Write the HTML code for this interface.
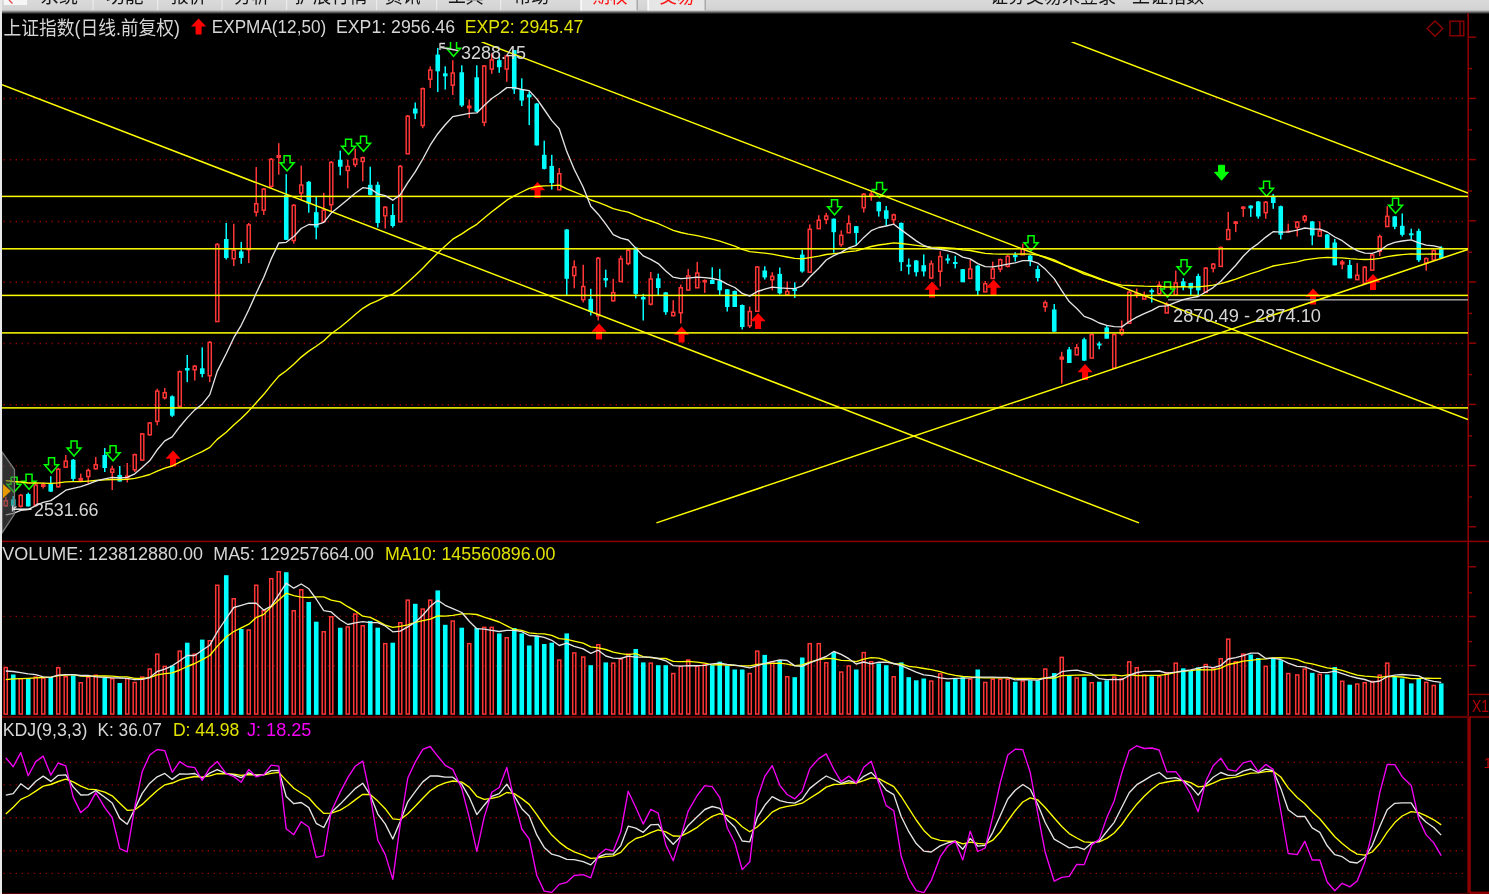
<!DOCTYPE html>
<html><head><meta charset="utf-8"><title>上证指数</title>
<style>html,body{margin:0;padding:0;background:#000;}body{width:1489px;height:894px;overflow:hidden;}svg{display:block}</style>
</head><body><svg width="1489" height="894" viewBox="0 0 1489 894">
<rect x="0" y="0" width="1489" height="894" fill="#000"/>
<defs><linearGradient id="tb" x1="0" y1="0" x2="0" y2="1"><stop offset="0" stop-color="#dadada"/><stop offset="0.68" stop-color="#d3d3d3"/><stop offset="0.76" stop-color="#b8b8b8"/><stop offset="0.84" stop-color="#808080"/><stop offset="0.92" stop-color="#404040"/><stop offset="1" stop-color="#0a0a0a"/></linearGradient></defs>
<rect x="0" y="0" width="1489" height="14" fill="url(#tb)"/>
<rect x="4" y="0" width="23" height="5" fill="#f6f6f6"/>
<path d="M9 0 L12.5 3.5" stroke="#e04040" stroke-width="1.2"/>
<rect x="92.5" y="0" width="1.2" height="10" fill="#ececec"/>
<rect x="157" y="0" width="1.2" height="10" fill="#ececec"/>
<rect x="221.5" y="0" width="1.2" height="10" fill="#ececec"/>
<rect x="286" y="0" width="1.2" height="10" fill="#ececec"/>
<rect x="376" y="0" width="1.2" height="10" fill="#ececec"/>
<rect x="436" y="0" width="1.2" height="10" fill="#ececec"/>
<rect x="500" y="0" width="1.2" height="10" fill="#ececec"/>
<text x="40" y="3.2" fill="#151515" font-size="19" font-family='"Liberation Sans", "Noto Sans CJK SC", "WenQuanYi Zen Hei", sans-serif' textLength="38" lengthAdjust="spacingAndGlyphs">系统</text>
<text x="106" y="3.2" fill="#151515" font-size="19" font-family='"Liberation Sans", "Noto Sans CJK SC", "WenQuanYi Zen Hei", sans-serif' textLength="37.6" lengthAdjust="spacingAndGlyphs">功能</text>
<text x="171" y="3.2" fill="#151515" font-size="19" font-family='"Liberation Sans", "Noto Sans CJK SC", "WenQuanYi Zen Hei", sans-serif' textLength="35.5" lengthAdjust="spacingAndGlyphs">报价</text>
<text x="234" y="3.2" fill="#151515" font-size="19" font-family='"Liberation Sans", "Noto Sans CJK SC", "WenQuanYi Zen Hei", sans-serif' textLength="35.5" lengthAdjust="spacingAndGlyphs">分析</text>
<text x="294.7" y="3.2" fill="#151515" font-size="19" font-family='"Liberation Sans", "Noto Sans CJK SC", "WenQuanYi Zen Hei", sans-serif' textLength="73.1" lengthAdjust="spacingAndGlyphs">扩展行情</text>
<text x="385" y="3.2" fill="#151515" font-size="19" font-family='"Liberation Sans", "Noto Sans CJK SC", "WenQuanYi Zen Hei", sans-serif' textLength="35.6" lengthAdjust="spacingAndGlyphs">资讯</text>
<text x="448" y="3.2" fill="#151515" font-size="19" font-family='"Liberation Sans", "Noto Sans CJK SC", "WenQuanYi Zen Hei", sans-serif' textLength="35.6" lengthAdjust="spacingAndGlyphs">工具</text>
<text x="513.8" y="3.2" fill="#151515" font-size="19" font-family='"Liberation Sans", "Noto Sans CJK SC", "WenQuanYi Zen Hei", sans-serif' textLength="35.2" lengthAdjust="spacingAndGlyphs">帮助</text>
<rect x="580.5" y="0" width="57.5" height="10.5" fill="#e6e6e6"/>
<rect x="580.5" y="0" width="1.3" height="10.5" fill="#ffffff"/>
<rect x="636.5" y="0" width="1.5" height="10.5" fill="#a8a8a8"/>
<text x="592.5" y="3.2" fill="#ff1010" font-size="19" font-family='"Liberation Sans", "Noto Sans CJK SC", "WenQuanYi Zen Hei", sans-serif' textLength="35" lengthAdjust="spacingAndGlyphs">期权</text>
<rect x="647.5" y="0" width="58.5" height="10.5" fill="#e6e6e6"/>
<rect x="647.5" y="0" width="1.3" height="10.5" fill="#ffffff"/>
<rect x="704.5" y="0" width="1.5" height="10.5" fill="#a8a8a8"/>
<text x="659.5" y="3.2" fill="#ff1010" font-size="19" font-family='"Liberation Sans", "Noto Sans CJK SC", "WenQuanYi Zen Hei", sans-serif' textLength="35" lengthAdjust="spacingAndGlyphs">交易</text>
<text x="990" y="3.2" fill="#151515" font-size="19" font-family='"Liberation Sans", "Noto Sans CJK SC", "WenQuanYi Zen Hei", sans-serif' textLength="214" lengthAdjust="spacingAndGlyphs">证券交易未登录 - 上证指数</text>
<line x1="3.6" y1="98.5" x2="1467" y2="98.5" stroke="#8c0000" stroke-width="1.4" stroke-dasharray="1.4 4.6"/>
<line x1="3.6" y1="159.7" x2="1467" y2="159.7" stroke="#8c0000" stroke-width="1.4" stroke-dasharray="1.4 4.6"/>
<line x1="3.6" y1="221.5" x2="1467" y2="221.5" stroke="#8c0000" stroke-width="1.4" stroke-dasharray="1.4 4.6"/>
<line x1="3.6" y1="282.3" x2="1467" y2="282.3" stroke="#8c0000" stroke-width="1.4" stroke-dasharray="1.4 4.6"/>
<line x1="3.6" y1="343.5" x2="1467" y2="343.5" stroke="#8c0000" stroke-width="1.4" stroke-dasharray="1.4 4.6"/>
<line x1="3.6" y1="404.7" x2="1467" y2="404.7" stroke="#8c0000" stroke-width="1.4" stroke-dasharray="1.4 4.6"/>
<line x1="3.6" y1="465.9" x2="1467" y2="465.9" stroke="#8c0000" stroke-width="1.4" stroke-dasharray="1.4 4.6"/>
<line x1="3.6" y1="616.4" x2="1467" y2="616.4" stroke="#8c0000" stroke-width="1.4" stroke-dasharray="1.4 4.6"/>
<line x1="3.6" y1="665.9" x2="1467" y2="665.9" stroke="#8c0000" stroke-width="1.4" stroke-dasharray="1.4 4.6"/>
<line x1="3.6" y1="762.4" x2="1467" y2="762.4" stroke="#8c0000" stroke-width="1.4" stroke-dasharray="1.4 4.6"/>
<line x1="3.6" y1="784.9" x2="1467" y2="784.9" stroke="#8c0000" stroke-width="1.4" stroke-dasharray="1.4 4.6"/>
<line x1="3.6" y1="817.8" x2="1467" y2="817.8" stroke="#8c0000" stroke-width="1.4" stroke-dasharray="1.4 4.6"/>
<line x1="3.6" y1="850.8" x2="1467" y2="850.8" stroke="#8c0000" stroke-width="1.4" stroke-dasharray="1.4 4.6"/>
<line x1="3.6" y1="873.4" x2="1467" y2="873.4" stroke="#8c0000" stroke-width="1.4" stroke-dasharray="1.4 4.6"/>
<rect x="1467.4" y="13" width="1.6" height="881" fill="#8c0000"/>
<rect x="2" y="540.65" width="1487" height="1.5" fill="#8c0000"/>
<rect x="2" y="715.9" width="1487" height="2.2" fill="#680000"/>
<rect x="1468.2" y="717" width="2.6" height="177" fill="#8c0000"/>
<rect x="1470" y="891.6" width="19" height="2.4" fill="#8c0000"/>
<rect x="2" y="892.9" width="1468" height="1.1" fill="#500000"/>
<rect x="1468" y="36.45" width="8.2" height="1.5" fill="#8c0000"/>
<rect x="1468" y="67.85" width="4" height="1.5" fill="#8c0000"/>
<rect x="1468" y="97.65" width="8.2" height="1.5" fill="#8c0000"/>
<rect x="1468" y="129.05" width="4" height="1.5" fill="#8c0000"/>
<rect x="1468" y="158.85" width="8.2" height="1.5" fill="#8c0000"/>
<rect x="1468" y="190.25" width="4" height="1.5" fill="#8c0000"/>
<rect x="1468" y="220.05" width="8.2" height="1.5" fill="#8c0000"/>
<rect x="1468" y="251.45" width="4" height="1.5" fill="#8c0000"/>
<rect x="1468" y="281.25" width="8.2" height="1.5" fill="#8c0000"/>
<rect x="1468" y="312.65" width="4" height="1.5" fill="#8c0000"/>
<rect x="1468" y="342.45" width="8.2" height="1.5" fill="#8c0000"/>
<rect x="1468" y="373.85" width="4" height="1.5" fill="#8c0000"/>
<rect x="1468" y="403.65" width="8.2" height="1.5" fill="#8c0000"/>
<rect x="1468" y="435.05" width="4" height="1.5" fill="#8c0000"/>
<rect x="1468" y="464.85" width="8.2" height="1.5" fill="#8c0000"/>
<rect x="1468" y="496.25" width="4" height="1.5" fill="#8c0000"/>
<rect x="1468" y="526.05" width="8.2" height="1.5" fill="#8c0000"/>
<rect x="1468" y="566.05" width="8.2" height="1.5" fill="#8c0000"/>
<rect x="1468" y="615.75" width="8.2" height="1.5" fill="#8c0000"/>
<rect x="1468" y="664.85" width="8.2" height="1.5" fill="#8c0000"/>
<rect x="1468" y="591.95" width="4" height="1.5" fill="#8c0000"/>
<rect x="1468" y="640.85" width="4" height="1.5" fill="#8c0000"/>
<rect x="1468" y="693.65" width="21" height="1.5" fill="#8c0000"/>
<text x="1472" y="711.5" fill="#b40000" font-size="17" font-family='"Liberation Sans", Arial, sans-serif' textLength="17" lengthAdjust="spacingAndGlyphs">X1</text>
<text x="1483.5" y="768" fill="#b40000" font-size="15.5" font-family='"Liberation Sans", Arial, sans-serif'>1</text>
<path d="M1435 21 L1442.8 28.6 L1435 36.2 L1427.2 28.6 Z" fill="none" stroke="#8c0000" stroke-width="1.4"/>
<rect x="1450" y="21.2" width="13.8" height="14.6" fill="none" stroke="#8c0000" stroke-width="1.4"/>
<line x1="1460" y1="21.2" x2="1460" y2="35.8" stroke="#8c0000" stroke-width="1.4"/>
<defs><clipPath id="pp"><rect x="2" y="42" width="1466" height="499"/></clipPath><clipPath id="vp"><rect x="2" y="542" width="1466" height="174"/></clipPath><clipPath id="kp"><rect x="2" y="718" width="1466" height="175"/></clipPath></defs>
<g clip-path="url(#pp)">
<rect x="5" y="497" width="1.5" height="9.5" fill="#ff3636"/><rect x="4.2" y="500.75" width="3.1" height="5" fill="#000" stroke="#ff3636" stroke-width="1.5"/><rect x="12.5" y="496" width="1.5" height="10.5" fill="#00ffff"/><rect x="10.95" y="499.3" width="4.6" height="6.4" fill="#00ffff"/><rect x="20" y="494" width="1.5" height="13.5" fill="#ff3636"/><rect x="19.2" y="495.35" width="3.1" height="10.8" fill="#000" stroke="#ff3636" stroke-width="1.5"/><rect x="27.5" y="492.6" width="1.5" height="13.9" fill="#00ffff"/><rect x="25.95" y="494" width="4.6" height="12.4" fill="#00ffff"/><rect x="35" y="483" width="1.5" height="22.5" fill="#ff3636"/><rect x="34.2" y="485.05" width="3.1" height="20.1" fill="#000" stroke="#ff3636" stroke-width="1.5"/><rect x="42.5" y="482.5" width="1.5" height="6" fill="#ff3636"/><rect x="40.95" y="484" width="4.6" height="3" fill="#ff3636"/><rect x="50" y="476.2" width="1.5" height="15.8" fill="#00ffff"/><rect x="48.45" y="483.2" width="4.6" height="8.4" fill="#00ffff"/><rect x="57.5" y="468" width="1.5" height="19.5" fill="#ff3636"/><rect x="56.7" y="469.25" width="3.1" height="17.5" fill="#000" stroke="#ff3636" stroke-width="1.5"/><rect x="65" y="455" width="1.5" height="12.5" fill="#ff3636"/><rect x="64.2" y="461.15" width="3.1" height="6" fill="#000" stroke="#ff3636" stroke-width="1.5"/><rect x="72.5" y="459" width="1.5" height="22" fill="#00ffff"/><rect x="70.95" y="459.7" width="4.6" height="19.2" fill="#00ffff"/><rect x="80" y="473.6" width="1.5" height="7.9" fill="#ff3636"/><rect x="78.45" y="477.9" width="4.6" height="3.6" fill="#ff3636"/><rect x="87.5" y="468.5" width="1.5" height="15" fill="#ff3636"/><rect x="86.7" y="470.55" width="3.1" height="6" fill="#000" stroke="#ff3636" stroke-width="1.5"/><rect x="95" y="457" width="1.5" height="12.5" fill="#ff3636"/><rect x="94.2" y="464.75" width="3.1" height="4" fill="#000" stroke="#ff3636" stroke-width="1.5"/><rect x="104" y="448" width="1.5" height="24" fill="#00ffff"/><rect x="102.45" y="455" width="4.6" height="13" fill="#00ffff"/><rect x="111.5" y="466" width="1.5" height="24" fill="#ff3636"/><rect x="110.7" y="469.15" width="3.1" height="3.1" fill="#000" stroke="#ff3636" stroke-width="1.5"/><rect x="119" y="466" width="1.5" height="15.5" fill="#00ffff"/><rect x="117.45" y="475" width="4.6" height="6.5" fill="#00ffff"/><rect x="126.5" y="463" width="1.5" height="19.5" fill="#ff3636"/><rect x="124.95" y="475.4" width="4.6" height="3.4" fill="#ff3636"/><rect x="134" y="453.5" width="1.5" height="18.5" fill="#ff3636"/><rect x="133.2" y="454.75" width="3.1" height="15" fill="#000" stroke="#ff3636" stroke-width="1.5"/><rect x="141.5" y="433" width="1.5" height="27.5" fill="#ff3636"/><rect x="140.7" y="433.95" width="3.1" height="26.1" fill="#000" stroke="#ff3636" stroke-width="1.5"/><rect x="149" y="422" width="1.5" height="13.5" fill="#ff3636"/><rect x="148.2" y="423.05" width="3.1" height="11.7" fill="#000" stroke="#ff3636" stroke-width="1.5"/><rect x="156.5" y="388.7" width="1.5" height="36.6" fill="#ff3636"/><rect x="155.7" y="391.15" width="3.1" height="30.2" fill="#000" stroke="#ff3636" stroke-width="1.5"/><rect x="164" y="388" width="1.5" height="11.5" fill="#ff3636"/><rect x="163.2" y="392.75" width="3.1" height="5" fill="#000" stroke="#ff3636" stroke-width="1.5"/><rect x="171.5" y="395.4" width="1.5" height="21.5" fill="#00ffff"/><rect x="169.95" y="396.3" width="4.6" height="19.4" fill="#00ffff"/><rect x="179" y="370.5" width="1.5" height="36" fill="#ff3636"/><rect x="178.2" y="371.75" width="3.1" height="34.5" fill="#000" stroke="#ff3636" stroke-width="1.5"/><rect x="186.5" y="355" width="1.5" height="27.1" fill="#00ffff"/><rect x="184.95" y="368" width="4.6" height="2.5" fill="#00ffff"/><rect x="194" y="365" width="1.5" height="15.5" fill="#ff3636"/><rect x="193.2" y="366.25" width="3.1" height="3.5" fill="#000" stroke="#ff3636" stroke-width="1.5"/><rect x="201.5" y="347.4" width="1.5" height="29.9" fill="#00ffff"/><rect x="199.95" y="368.3" width="4.6" height="5.7" fill="#00ffff"/><rect x="209" y="341" width="1.5" height="41.1" fill="#ff3636"/><rect x="208.2" y="342.45" width="3.1" height="33.3" fill="#000" stroke="#ff3636" stroke-width="1.5"/><rect x="216.5" y="243" width="1.5" height="79" fill="#ff3636"/><rect x="215.7" y="244.55" width="3.1" height="77" fill="#000" stroke="#ff3636" stroke-width="1.5"/><rect x="225.5" y="222.9" width="1.5" height="36.6" fill="#00ffff"/><rect x="223.95" y="239" width="4.6" height="19" fill="#00ffff"/><rect x="233" y="223.8" width="1.5" height="42.3" fill="#ff3636"/><rect x="232.2" y="250.25" width="3.1" height="8.5" fill="#000" stroke="#ff3636" stroke-width="1.5"/><rect x="240.5" y="241.9" width="1.5" height="21.9" fill="#00ffff"/><rect x="238.95" y="251.4" width="4.6" height="6.6" fill="#00ffff"/><rect x="248" y="223" width="1.5" height="40.1" fill="#ff3636"/><rect x="247.2" y="224.95" width="3.1" height="24.8" fill="#000" stroke="#ff3636" stroke-width="1.5"/><rect x="255.5" y="167" width="1.5" height="49.5" fill="#ff3636"/><rect x="254.7" y="203.75" width="3.1" height="8.3" fill="#000" stroke="#ff3636" stroke-width="1.5"/><rect x="263" y="188" width="1.5" height="27" fill="#ff3636"/><rect x="262.2" y="189.15" width="3.1" height="21" fill="#000" stroke="#ff3636" stroke-width="1.5"/><rect x="270.5" y="158" width="1.5" height="30" fill="#ff3636"/><rect x="269.7" y="159.35" width="3.1" height="27" fill="#000" stroke="#ff3636" stroke-width="1.5"/><rect x="278" y="143.2" width="1.5" height="31.5" fill="#ff3636"/><rect x="276.45" y="155" width="4.6" height="3" fill="#ff3636"/><rect x="285.5" y="174.2" width="1.5" height="65.8" fill="#00ffff"/><rect x="283.95" y="195" width="4.6" height="44.8" fill="#00ffff"/><rect x="293" y="204" width="1.5" height="39.7" fill="#ff3636"/><rect x="292.2" y="205.35" width="3.1" height="35.2" fill="#000" stroke="#ff3636" stroke-width="1.5"/><rect x="300.5" y="165.6" width="1.5" height="33.9" fill="#ff3636"/><rect x="299.7" y="185.05" width="3.1" height="7.9" fill="#000" stroke="#ff3636" stroke-width="1.5"/><rect x="308" y="181" width="1.5" height="31.7" fill="#00ffff"/><rect x="306.45" y="181.8" width="4.6" height="21.9" fill="#00ffff"/><rect x="315.5" y="197" width="1.5" height="42.3" fill="#00ffff"/><rect x="313.95" y="212.2" width="4.6" height="15.3" fill="#00ffff"/><rect x="323" y="192.8" width="1.5" height="29.2" fill="#ff3636"/><rect x="322.2" y="210.15" width="3.1" height="11.4" fill="#000" stroke="#ff3636" stroke-width="1.5"/><rect x="330.5" y="161" width="1.5" height="50.5" fill="#ff3636"/><rect x="329.7" y="162.45" width="3.1" height="42.3" fill="#000" stroke="#ff3636" stroke-width="1.5"/><rect x="339.5" y="150.6" width="1.5" height="24.7" fill="#00ffff"/><rect x="337.95" y="159.7" width="4.6" height="7" fill="#00ffff"/><rect x="347" y="159.7" width="1.5" height="28.6" fill="#ff3636"/><rect x="346.2" y="166.45" width="3.1" height="4" fill="#000" stroke="#ff3636" stroke-width="1.5"/><rect x="354.5" y="148.6" width="1.5" height="18.6" fill="#ff3636"/><rect x="353.7" y="158.95" width="3.1" height="5.5" fill="#000" stroke="#ff3636" stroke-width="1.5"/><rect x="362" y="156.5" width="1.5" height="24.8" fill="#ff3636"/><rect x="361.2" y="157.75" width="3.1" height="3.7" fill="#000" stroke="#ff3636" stroke-width="1.5"/><rect x="369.5" y="166.7" width="1.5" height="28.8" fill="#00ffff"/><rect x="367.95" y="184.8" width="4.6" height="10.1" fill="#00ffff"/><rect x="377" y="181.8" width="1.5" height="45.7" fill="#00ffff"/><rect x="375.45" y="184.8" width="4.6" height="38.2" fill="#00ffff"/><rect x="384.5" y="206" width="1.5" height="22.5" fill="#ff3636"/><rect x="383.7" y="207.35" width="3.1" height="8.4" fill="#000" stroke="#ff3636" stroke-width="1.5"/><rect x="392" y="204" width="1.5" height="23.5" fill="#00ffff"/><rect x="390.45" y="215" width="4.6" height="11" fill="#00ffff"/><rect x="399.5" y="165" width="1.5" height="57" fill="#ff3636"/><rect x="398.7" y="166.45" width="3.1" height="55.3" fill="#000" stroke="#ff3636" stroke-width="1.5"/><rect x="407" y="115" width="1.5" height="39" fill="#ff3636"/><rect x="406.2" y="116.25" width="3.1" height="37.5" fill="#000" stroke="#ff3636" stroke-width="1.5"/><rect x="414.5" y="102.5" width="1.5" height="16.6" fill="#00ffff"/><rect x="412.95" y="108.5" width="4.6" height="5.1" fill="#00ffff"/><rect x="422" y="87.5" width="1.5" height="40.7" fill="#ff3636"/><rect x="421.2" y="88.75" width="3.1" height="36.7" fill="#000" stroke="#ff3636" stroke-width="1.5"/><rect x="429.5" y="66.3" width="1.5" height="21.6" fill="#ff3636"/><rect x="428.7" y="70.05" width="3.1" height="9.1" fill="#000" stroke="#ff3636" stroke-width="1.5"/><rect x="437" y="47.9" width="1.5" height="44" fill="#00ffff"/><rect x="435.45" y="54.6" width="4.6" height="16.7" fill="#00ffff"/><rect x="444.5" y="66.3" width="1.5" height="23.2" fill="#00ffff"/><rect x="442.95" y="73.3" width="4.6" height="3" fill="#00ffff"/><rect x="452" y="60.2" width="1.5" height="34.8" fill="#ff3636"/><rect x="451.2" y="73.05" width="3.1" height="12.1" fill="#000" stroke="#ff3636" stroke-width="1.5"/><rect x="461" y="65.3" width="1.5" height="41.7" fill="#00ffff"/><rect x="459.45" y="72.3" width="4.6" height="33.2" fill="#00ffff"/><rect x="468.5" y="99.5" width="1.5" height="18.6" fill="#ff3636"/><rect x="466.95" y="105.5" width="4.6" height="3" fill="#ff3636"/><rect x="476" y="65.3" width="1.5" height="46.8" fill="#00ffff"/><rect x="474.45" y="77.3" width="4.6" height="34.3" fill="#00ffff"/><rect x="483.5" y="65" width="1.5" height="61.2" fill="#ff3636"/><rect x="482.7" y="66.05" width="3.1" height="56.3" fill="#000" stroke="#ff3636" stroke-width="1.5"/><rect x="491" y="53.2" width="1.5" height="20.6" fill="#ff3636"/><rect x="490.2" y="59.95" width="3.1" height="9.1" fill="#000" stroke="#ff3636" stroke-width="1.5"/><rect x="498.5" y="57.2" width="1.5" height="15.6" fill="#00ffff"/><rect x="496.95" y="60.2" width="4.6" height="7" fill="#00ffff"/><rect x="506" y="54.5" width="1.5" height="27.3" fill="#ff3636"/><rect x="505.2" y="55.95" width="3.1" height="13.1" fill="#000" stroke="#ff3636" stroke-width="1.5"/><rect x="513.5" y="50" width="1.5" height="43.9" fill="#00ffff"/><rect x="511.95" y="50.1" width="4.6" height="39.3" fill="#00ffff"/><rect x="521" y="78.3" width="1.5" height="27.7" fill="#00ffff"/><rect x="519.45" y="89.4" width="4.6" height="11.1" fill="#00ffff"/><rect x="528.5" y="91.4" width="1.5" height="33.7" fill="#00ffff"/><rect x="526.95" y="94.4" width="4.6" height="3" fill="#00ffff"/><rect x="536" y="103" width="1.5" height="42.5" fill="#00ffff"/><rect x="534.45" y="103.5" width="4.6" height="41.9" fill="#00ffff"/><rect x="543.5" y="140.7" width="1.5" height="28.8" fill="#00ffff"/><rect x="541.95" y="154.8" width="4.6" height="14.1" fill="#00ffff"/><rect x="551" y="154.8" width="1.5" height="34.7" fill="#00ffff"/><rect x="549.45" y="165.9" width="4.6" height="17.1" fill="#00ffff"/><rect x="558.5" y="168" width="1.5" height="22" fill="#ff3636"/><rect x="557.7" y="173.75" width="3.1" height="16" fill="#000" stroke="#ff3636" stroke-width="1.5"/><rect x="566" y="229" width="1.5" height="66.4" fill="#00ffff"/><rect x="564.45" y="229.5" width="4.6" height="49.3" fill="#00ffff"/><rect x="573.5" y="260.3" width="1.5" height="28" fill="#ff3636"/><rect x="572.7" y="267.05" width="3.1" height="8.5" fill="#000" stroke="#ff3636" stroke-width="1.5"/><rect x="582.5" y="264.7" width="1.5" height="37.8" fill="#ff3636"/><rect x="581.7" y="286.55" width="3.1" height="13.1" fill="#000" stroke="#ff3636" stroke-width="1.5"/><rect x="590" y="288.8" width="1.5" height="26.7" fill="#00ffff"/><rect x="588.45" y="298.9" width="4.6" height="13.1" fill="#00ffff"/><rect x="597.5" y="257" width="1.5" height="63.5" fill="#ff3636"/><rect x="596.7" y="258.35" width="3.1" height="57.4" fill="#000" stroke="#ff3636" stroke-width="1.5"/><rect x="605" y="269.7" width="1.5" height="17.6" fill="#00ffff"/><rect x="603.45" y="278" width="4.6" height="2.5" fill="#00ffff"/><rect x="612.5" y="278.8" width="1.5" height="22.7" fill="#ff3636"/><rect x="611.7" y="292.65" width="3.1" height="8.1" fill="#000" stroke="#ff3636" stroke-width="1.5"/><rect x="620" y="255.6" width="1.5" height="26.4" fill="#ff3636"/><rect x="619.2" y="258.95" width="3.1" height="22.6" fill="#000" stroke="#ff3636" stroke-width="1.5"/><rect x="627.5" y="249" width="1.5" height="16.2" fill="#ff3636"/><rect x="626.7" y="250.35" width="3.1" height="13.1" fill="#000" stroke="#ff3636" stroke-width="1.5"/><rect x="635" y="247" width="1.5" height="51.4" fill="#00ffff"/><rect x="633.45" y="247.6" width="4.6" height="46.3" fill="#00ffff"/><rect x="642.5" y="293.9" width="1.5" height="26.6" fill="#00ffff"/><rect x="640.95" y="297" width="4.6" height="2.5" fill="#00ffff"/><rect x="650" y="272" width="1.5" height="33.5" fill="#ff3636"/><rect x="649.2" y="279.05" width="3.1" height="25.1" fill="#000" stroke="#ff3636" stroke-width="1.5"/><rect x="657.5" y="273.6" width="1.5" height="21.6" fill="#00ffff"/><rect x="655.95" y="278.3" width="4.6" height="9.7" fill="#00ffff"/><rect x="665" y="292" width="1.5" height="22.8" fill="#00ffff"/><rect x="663.45" y="292.4" width="4.6" height="19.8" fill="#00ffff"/><rect x="672.5" y="300.2" width="1.5" height="15.8" fill="#ff3636"/><rect x="671.7" y="312.25" width="3.1" height="3.5" fill="#000" stroke="#ff3636" stroke-width="1.5"/><rect x="680" y="284.6" width="1.5" height="38.9" fill="#ff3636"/><rect x="679.2" y="287.75" width="3.1" height="25" fill="#000" stroke="#ff3636" stroke-width="1.5"/><rect x="687.5" y="269" width="1.5" height="21.5" fill="#ff3636"/><rect x="686.7" y="275.95" width="3.1" height="14.1" fill="#000" stroke="#ff3636" stroke-width="1.5"/><rect x="696.5" y="261.9" width="1.5" height="26.1" fill="#ff3636"/><rect x="695.7" y="273.05" width="3.1" height="14.7" fill="#000" stroke="#ff3636" stroke-width="1.5"/><rect x="704" y="279.5" width="1.5" height="13.4" fill="#ff3636"/><rect x="702.45" y="279.9" width="4.6" height="2.6" fill="#ff3636"/><rect x="711.5" y="267.3" width="1.5" height="16.7" fill="#00ffff"/><rect x="709.95" y="280" width="4.6" height="4" fill="#00ffff"/><rect x="719" y="268.9" width="1.5" height="26.3" fill="#00ffff"/><rect x="717.45" y="280.6" width="4.6" height="9.7" fill="#00ffff"/><rect x="726.5" y="289" width="1.5" height="22.5" fill="#00ffff"/><rect x="724.95" y="289.3" width="4.6" height="17.7" fill="#00ffff"/><rect x="734" y="290.5" width="1.5" height="16.5" fill="#00ffff"/><rect x="732.45" y="291" width="4.6" height="16" fill="#00ffff"/><rect x="741.5" y="304.5" width="1.5" height="25" fill="#00ffff"/><rect x="739.95" y="305" width="4.6" height="22" fill="#00ffff"/><rect x="749" y="306.6" width="1.5" height="21.5" fill="#ff3636"/><rect x="748.2" y="311.55" width="3.1" height="14.2" fill="#000" stroke="#ff3636" stroke-width="1.5"/><rect x="756.5" y="266" width="1.5" height="45.5" fill="#ff3636"/><rect x="755.7" y="267.05" width="3.1" height="44.2" fill="#000" stroke="#ff3636" stroke-width="1.5"/><rect x="764" y="266.3" width="1.5" height="13.2" fill="#00ffff"/><rect x="762.45" y="270.5" width="4.6" height="6.9" fill="#00ffff"/><rect x="771.5" y="272.2" width="1.5" height="18.1" fill="#ff3636"/><rect x="770.7" y="276.35" width="3.1" height="3.4" fill="#000" stroke="#ff3636" stroke-width="1.5"/><rect x="779" y="267.5" width="1.5" height="27" fill="#00ffff"/><rect x="777.45" y="273.9" width="4.6" height="19.4" fill="#00ffff"/><rect x="786.5" y="281.4" width="1.5" height="14" fill="#ff3636"/><rect x="785.7" y="291.45" width="3.1" height="3.3" fill="#000" stroke="#ff3636" stroke-width="1.5"/><rect x="794" y="282.3" width="1.5" height="15.6" fill="#00ffff"/><rect x="792.45" y="288.5" width="4.6" height="2.5" fill="#00ffff"/><rect x="801.5" y="249.6" width="1.5" height="23.1" fill="#00ffff"/><rect x="799.95" y="254.6" width="4.6" height="16.9" fill="#00ffff"/><rect x="809" y="224.4" width="1.5" height="48.1" fill="#ff3636"/><rect x="808.2" y="229.35" width="3.1" height="42.8" fill="#000" stroke="#ff3636" stroke-width="1.5"/><rect x="818" y="215.3" width="1.5" height="13.7" fill="#ff3636"/><rect x="817.2" y="220.25" width="3.1" height="8.4" fill="#000" stroke="#ff3636" stroke-width="1.5"/><rect x="825.5" y="212.8" width="1.5" height="11.4" fill="#ff3636"/><rect x="824.7" y="216.05" width="3.1" height="3.4" fill="#000" stroke="#ff3636" stroke-width="1.5"/><rect x="833" y="218.5" width="1.5" height="34.2" fill="#00ffff"/><rect x="831.45" y="218.7" width="4.6" height="13.5" fill="#00ffff"/><rect x="840.5" y="230.4" width="1.5" height="16.4" fill="#ff3636"/><rect x="839.7" y="235.35" width="3.1" height="9.2" fill="#000" stroke="#ff3636" stroke-width="1.5"/><rect x="848" y="215.3" width="1.5" height="17.7" fill="#ff3636"/><rect x="847.2" y="223.65" width="3.1" height="9.1" fill="#000" stroke="#ff3636" stroke-width="1.5"/><rect x="855.5" y="226" width="1.5" height="19.2" fill="#00ffff"/><rect x="853.95" y="226.2" width="4.6" height="6.8" fill="#00ffff"/><rect x="863" y="193" width="1.5" height="19.5" fill="#ff3636"/><rect x="862.2" y="194.25" width="3.1" height="13.5" fill="#000" stroke="#ff3636" stroke-width="1.5"/><rect x="870.5" y="191.8" width="1.5" height="8.9" fill="#ff3636"/><rect x="868.95" y="193.5" width="4.6" height="2.7" fill="#ff3636"/><rect x="878" y="201.5" width="1.5" height="15.1" fill="#00ffff"/><rect x="876.45" y="201.9" width="4.6" height="9.4" fill="#00ffff"/><rect x="885.5" y="206" width="1.5" height="19.9" fill="#00ffff"/><rect x="883.95" y="210.3" width="4.6" height="8.5" fill="#00ffff"/><rect x="893" y="213.6" width="1.5" height="10.5" fill="#ff3636"/><rect x="892.2" y="214.95" width="3.1" height="4.7" fill="#000" stroke="#ff3636" stroke-width="1.5"/><rect x="900.5" y="222.5" width="1.5" height="48.5" fill="#00ffff"/><rect x="898.95" y="222.9" width="4.6" height="39.2" fill="#00ffff"/><rect x="908" y="258.5" width="1.5" height="15.9" fill="#00ffff"/><rect x="906.45" y="264.7" width="4.6" height="2" fill="#00ffff"/><rect x="915.5" y="260" width="1.5" height="16.4" fill="#00ffff"/><rect x="913.95" y="260.5" width="4.6" height="11.7" fill="#00ffff"/><rect x="923" y="254.4" width="1.5" height="22" fill="#00ffff"/><rect x="921.45" y="265.2" width="4.6" height="6.3" fill="#00ffff"/><rect x="930.5" y="260.5" width="1.5" height="18.6" fill="#ff3636"/><rect x="929.7" y="263.95" width="3.1" height="14" fill="#000" stroke="#ff3636" stroke-width="1.5"/><rect x="939.5" y="251.1" width="1.5" height="35.4" fill="#ff3636"/><rect x="938.7" y="256.55" width="3.1" height="14.7" fill="#000" stroke="#ff3636" stroke-width="1.5"/><rect x="947" y="254.4" width="1.5" height="9.3" fill="#00ffff"/><rect x="945.45" y="258.5" width="4.6" height="2" fill="#00ffff"/><rect x="954.5" y="255.8" width="1.5" height="12.6" fill="#00ffff"/><rect x="952.95" y="262" width="4.6" height="2" fill="#00ffff"/><rect x="962" y="269" width="1.5" height="13" fill="#00ffff"/><rect x="960.45" y="269.2" width="4.6" height="13.1" fill="#00ffff"/><rect x="969.5" y="259.6" width="1.5" height="18.9" fill="#ff3636"/><rect x="968.7" y="269.05" width="3.1" height="9.4" fill="#000" stroke="#ff3636" stroke-width="1.5"/><rect x="977" y="265" width="1.5" height="30" fill="#00ffff"/><rect x="975.45" y="265.6" width="4.6" height="25.2" fill="#00ffff"/><rect x="984.5" y="281" width="1.5" height="11" fill="#ff3636"/><rect x="983.7" y="283.75" width="3.1" height="8.1" fill="#000" stroke="#ff3636" stroke-width="1.5"/><rect x="992" y="261.6" width="1.5" height="16.9" fill="#ff3636"/><rect x="991.2" y="269.05" width="3.1" height="9.4" fill="#000" stroke="#ff3636" stroke-width="1.5"/><rect x="999.5" y="258.5" width="1.5" height="13.7" fill="#ff3636"/><rect x="998.7" y="259.75" width="3.1" height="9.3" fill="#000" stroke="#ff3636" stroke-width="1.5"/><rect x="1007" y="255" width="1.5" height="12.5" fill="#ff3636"/><rect x="1006.2" y="256.35" width="3.1" height="10" fill="#000" stroke="#ff3636" stroke-width="1.5"/><rect x="1014.5" y="252.2" width="1.5" height="9.3" fill="#00ffff"/><rect x="1012.95" y="255" width="4.6" height="2.2" fill="#00ffff"/><rect x="1022" y="243.5" width="1.5" height="11.5" fill="#ff3636"/><rect x="1021.2" y="249.25" width="3.1" height="5.5" fill="#000" stroke="#ff3636" stroke-width="1.5"/><rect x="1029.5" y="255" width="1.5" height="11.1" fill="#00ffff"/><rect x="1027.95" y="255.6" width="4.6" height="5.7" fill="#00ffff"/><rect x="1037" y="265.6" width="1.5" height="15.9" fill="#00ffff"/><rect x="1035.45" y="269" width="4.6" height="9" fill="#00ffff"/><rect x="1044.5" y="300.5" width="1.5" height="11.3" fill="#ff3636"/><rect x="1043.7" y="302.75" width="3.1" height="4" fill="#000" stroke="#ff3636" stroke-width="1.5"/><rect x="1053.5" y="304" width="1.5" height="27.9" fill="#00ffff"/><rect x="1051.95" y="309.5" width="4.6" height="22.1" fill="#00ffff"/><rect x="1061" y="351.8" width="1.5" height="31.8" fill="#ff3636"/><rect x="1059.45" y="356.5" width="4.6" height="3.3" fill="#ff3636"/><rect x="1068.5" y="347" width="1.5" height="16" fill="#00ffff"/><rect x="1066.95" y="349.4" width="4.6" height="13.6" fill="#00ffff"/><rect x="1076" y="344" width="1.5" height="11" fill="#ff3636"/><rect x="1075.2" y="347.75" width="3.1" height="7.1" fill="#000" stroke="#ff3636" stroke-width="1.5"/><rect x="1083.5" y="337.7" width="1.5" height="23.2" fill="#00ffff"/><rect x="1081.95" y="339.3" width="4.6" height="21.3" fill="#00ffff"/><rect x="1091" y="333.5" width="1.5" height="24.8" fill="#ff3636"/><rect x="1090.2" y="334.55" width="3.1" height="23.5" fill="#000" stroke="#ff3636" stroke-width="1.5"/><rect x="1098.5" y="341.6" width="1.5" height="7.6" fill="#00ffff"/><rect x="1096.95" y="343.5" width="4.6" height="2" fill="#00ffff"/><rect x="1106" y="326" width="1.5" height="12.5" fill="#00ffff"/><rect x="1104.45" y="327.5" width="4.6" height="11.2" fill="#00ffff"/><rect x="1113.5" y="333.5" width="1.5" height="34.8" fill="#ff3636"/><rect x="1112.7" y="334.55" width="3.1" height="33.6" fill="#000" stroke="#ff3636" stroke-width="1.5"/><rect x="1121" y="320.5" width="1.5" height="15.3" fill="#ff3636"/><rect x="1120.2" y="329.75" width="3.1" height="4" fill="#000" stroke="#ff3636" stroke-width="1.5"/><rect x="1128.5" y="290.4" width="1.5" height="33.5" fill="#ff3636"/><rect x="1127.7" y="292.25" width="3.1" height="31" fill="#000" stroke="#ff3636" stroke-width="1.5"/><rect x="1136" y="288.5" width="1.5" height="9.4" fill="#ff3636"/><rect x="1134.45" y="293" width="4.6" height="2.7" fill="#ff3636"/><rect x="1143.5" y="291.6" width="1.5" height="7.7" fill="#ff3636"/><rect x="1142.7" y="295.95" width="3.1" height="3.1" fill="#000" stroke="#ff3636" stroke-width="1.5"/><rect x="1151" y="288.5" width="1.5" height="14" fill="#00ffff"/><rect x="1149.45" y="290.2" width="4.6" height="2" fill="#00ffff"/><rect x="1158.5" y="281.3" width="1.5" height="13.5" fill="#ff3636"/><rect x="1157.7" y="285.25" width="3.1" height="8.5" fill="#000" stroke="#ff3636" stroke-width="1.5"/><rect x="1166" y="302.3" width="1.5" height="10.7" fill="#ff3636"/><rect x="1165.2" y="304.45" width="3.1" height="8.5" fill="#000" stroke="#ff3636" stroke-width="1.5"/><rect x="1175" y="270.6" width="1.5" height="24.7" fill="#ff3636"/><rect x="1174.2" y="282.95" width="3.1" height="12.1" fill="#000" stroke="#ff3636" stroke-width="1.5"/><rect x="1182.5" y="278.2" width="1.5" height="12.1" fill="#00ffff"/><rect x="1180.95" y="281.3" width="4.6" height="5" fill="#00ffff"/><rect x="1190" y="282.7" width="1.5" height="12.5" fill="#00ffff"/><rect x="1188.45" y="283" width="4.6" height="5.6" fill="#00ffff"/><rect x="1197.5" y="273.7" width="1.5" height="21.5" fill="#00ffff"/><rect x="1195.95" y="276" width="4.6" height="14.4" fill="#00ffff"/><rect x="1205" y="267" width="1.5" height="25.5" fill="#ff3636"/><rect x="1204.2" y="268.15" width="3.1" height="24.1" fill="#000" stroke="#ff3636" stroke-width="1.5"/><rect x="1212.5" y="263" width="1.5" height="9.4" fill="#ff3636"/><rect x="1211.7" y="264.15" width="3.1" height="4" fill="#000" stroke="#ff3636" stroke-width="1.5"/><rect x="1220" y="246.5" width="1.5" height="20" fill="#ff3636"/><rect x="1219.2" y="247.55" width="3.1" height="18.8" fill="#000" stroke="#ff3636" stroke-width="1.5"/><rect x="1227.5" y="211.9" width="1.5" height="27.6" fill="#ff3636"/><rect x="1226.7" y="229.65" width="3.1" height="9.8" fill="#000" stroke="#ff3636" stroke-width="1.5"/><rect x="1235" y="221" width="1.5" height="11.1" fill="#ff3636"/><rect x="1233.45" y="221.4" width="4.6" height="2.6" fill="#ff3636"/><rect x="1242.5" y="206" width="1.5" height="10.9" fill="#ff3636"/><rect x="1240.95" y="206.5" width="4.6" height="2.5" fill="#ff3636"/><rect x="1250" y="205.3" width="1.5" height="11.6" fill="#00ffff"/><rect x="1248.45" y="205.6" width="4.6" height="2.8" fill="#00ffff"/><rect x="1257.5" y="201" width="1.5" height="17.7" fill="#00ffff"/><rect x="1255.95" y="201.5" width="4.6" height="15" fill="#00ffff"/><rect x="1265" y="201" width="1.5" height="17.7" fill="#ff3636"/><rect x="1264.2" y="202.25" width="3.1" height="10.4" fill="#000" stroke="#ff3636" stroke-width="1.5"/><rect x="1272.5" y="194" width="1.5" height="14.8" fill="#00ffff"/><rect x="1270.95" y="195.8" width="4.6" height="7.2" fill="#00ffff"/><rect x="1280" y="205.6" width="1.5" height="33.8" fill="#00ffff"/><rect x="1278.45" y="206.2" width="4.6" height="28.6" fill="#00ffff"/><rect x="1287.5" y="223.6" width="1.5" height="8.9" fill="#ff3636"/><rect x="1285.95" y="230.6" width="4.6" height="2" fill="#ff3636"/><rect x="1296.5" y="221" width="1.5" height="15.5" fill="#ff3636"/><rect x="1295.7" y="222.15" width="3.1" height="5.1" fill="#000" stroke="#ff3636" stroke-width="1.5"/><rect x="1304" y="214.9" width="1.5" height="7.8" fill="#ff3636"/><rect x="1303.2" y="216.35" width="3.1" height="3.7" fill="#000" stroke="#ff3636" stroke-width="1.5"/><rect x="1311.5" y="221" width="1.5" height="24.2" fill="#00ffff"/><rect x="1309.95" y="221.4" width="4.6" height="14.1" fill="#00ffff"/><rect x="1319" y="221.4" width="1.5" height="15.1" fill="#ff3636"/><rect x="1318.2" y="230.95" width="3.1" height="5.1" fill="#000" stroke="#ff3636" stroke-width="1.5"/><rect x="1326.5" y="234" width="1.5" height="14.5" fill="#00ffff"/><rect x="1324.95" y="234.5" width="4.6" height="14.1" fill="#00ffff"/><rect x="1334" y="238.9" width="1.5" height="26.4" fill="#00ffff"/><rect x="1332.45" y="242.5" width="4.6" height="22.8" fill="#00ffff"/><rect x="1341.5" y="260" width="1.5" height="9.2" fill="#ff3636"/><rect x="1339.95" y="261.4" width="4.6" height="3.2" fill="#ff3636"/><rect x="1349" y="260" width="1.5" height="18.3" fill="#00ffff"/><rect x="1347.45" y="265" width="4.6" height="13.4" fill="#00ffff"/><rect x="1356.5" y="263.2" width="1.5" height="16.6" fill="#ff3636"/><rect x="1355.7" y="275.25" width="3.1" height="4.4" fill="#000" stroke="#ff3636" stroke-width="1.5"/><rect x="1364" y="266" width="1.5" height="17.5" fill="#ff3636"/><rect x="1363.2" y="267.25" width="3.1" height="16" fill="#000" stroke="#ff3636" stroke-width="1.5"/><rect x="1371.5" y="254" width="1.5" height="16.3" fill="#ff3636"/><rect x="1370.7" y="254.95" width="3.1" height="15.2" fill="#000" stroke="#ff3636" stroke-width="1.5"/><rect x="1379" y="234.5" width="1.5" height="21.6" fill="#ff3636"/><rect x="1378.2" y="236.75" width="3.1" height="14.5" fill="#000" stroke="#ff3636" stroke-width="1.5"/><rect x="1386.5" y="206.2" width="1.5" height="20.8" fill="#ff3636"/><rect x="1385.7" y="216.35" width="3.1" height="10.2" fill="#000" stroke="#ff3636" stroke-width="1.5"/><rect x="1394" y="216" width="1.5" height="13.2" fill="#00ffff"/><rect x="1392.45" y="216.4" width="4.6" height="10.4" fill="#00ffff"/><rect x="1401.5" y="213.4" width="1.5" height="23.1" fill="#00ffff"/><rect x="1399.95" y="225.8" width="4.6" height="9" fill="#00ffff"/><rect x="1410.5" y="228.7" width="1.5" height="10.7" fill="#00ffff"/><rect x="1408.95" y="233.3" width="4.6" height="2" fill="#00ffff"/><rect x="1418" y="228.7" width="1.5" height="33.2" fill="#00ffff"/><rect x="1416.45" y="230.9" width="4.6" height="29.3" fill="#00ffff"/><rect x="1425.5" y="257.5" width="1.5" height="13.2" fill="#ff3636"/><rect x="1424.7" y="258.55" width="3.1" height="4.4" fill="#000" stroke="#ff3636" stroke-width="1.5"/><rect x="1433" y="249.5" width="1.5" height="10.6" fill="#ff3636"/><rect x="1432.2" y="250.55" width="3.1" height="9.4" fill="#000" stroke="#ff3636" stroke-width="1.5"/><rect x="1440.5" y="246.2" width="1.5" height="11.8" fill="#00ffff"/><rect x="1438.95" y="247.6" width="4.6" height="10.4" fill="#00ffff"/>
<path d="M11.05 477.35 L17.05 477.35 L17.05 484.35 L21.05 484.35 L14.05 492.35 L7.05 484.35 L11.05 484.35 Z" fill="none" stroke="#00ff00" stroke-width="1.5"/>
<path d="M26.05 474.25 L32.05 474.25 L32.05 481.25 L36.05 481.25 L29.05 489.25 L22.05 481.25 L26.05 481.25 Z" fill="none" stroke="#00ff00" stroke-width="1.5"/>
<path d="M48.55 457.75 L54.55 457.75 L54.55 464.75 L58.55 464.75 L51.55 472.75 L44.55 464.75 L48.55 464.75 Z" fill="none" stroke="#00ff00" stroke-width="1.5"/>
<path d="M71.05 441.05 L77.05 441.05 L77.05 448.05 L81.05 448.05 L74.05 456.05 L67.05 448.05 L71.05 448.05 Z" fill="none" stroke="#00ff00" stroke-width="1.5"/>
<path d="M110.05 445.75 L116.05 445.75 L116.05 452.75 L120.05 452.75 L113.05 460.75 L106.05 452.75 L110.05 452.75 Z" fill="none" stroke="#00ff00" stroke-width="1.5"/>
<path d="M284.05 155.75 L290.05 155.75 L290.05 162.75 L294.05 162.75 L287.05 170.75 L280.05 162.75 L284.05 162.75 Z" fill="none" stroke="#00ff00" stroke-width="1.5"/>
<path d="M345.55 139.25 L351.55 139.25 L351.55 146.25 L355.55 146.25 L348.55 154.25 L341.55 146.25 L345.55 146.25 Z" fill="none" stroke="#00ff00" stroke-width="1.5"/>
<path d="M360.55 136.25 L366.55 136.25 L366.55 143.25 L370.55 143.25 L363.55 151.25 L356.55 143.25 L360.55 143.25 Z" fill="none" stroke="#00ff00" stroke-width="1.5"/>
<path d="M450.55 41.25 L456.55 41.25 L456.55 48.25 L460.55 48.25 L453.55 56.25 L446.55 48.25 L450.55 48.25 Z" fill="none" stroke="#00ff00" stroke-width="1.5"/>
<path d="M831.55 199.75 L837.55 199.75 L837.55 206.75 L841.55 206.75 L834.55 214.75 L827.55 206.75 L831.55 206.75 Z" fill="none" stroke="#00ff00" stroke-width="1.5"/>
<path d="M876.55 182.45 L882.55 182.45 L882.55 189.45 L886.55 189.45 L879.55 197.45 L872.55 189.45 L876.55 189.45 Z" fill="none" stroke="#00ff00" stroke-width="1.5"/>
<path d="M1028.05 235.75 L1034.05 235.75 L1034.05 242.75 L1038.05 242.75 L1031.05 250.75 L1024.05 242.75 L1028.05 242.75 Z" fill="none" stroke="#00ff00" stroke-width="1.5"/>
<path d="M1164.55 282.05 L1170.55 282.05 L1170.55 289.05 L1174.55 289.05 L1167.55 297.05 L1160.55 289.05 L1164.55 289.05 Z" fill="none" stroke="#00ff00" stroke-width="1.5"/>
<path d="M1181.05 259.75 L1187.05 259.75 L1187.05 266.75 L1191.05 266.75 L1184.05 274.75 L1177.05 266.75 L1181.05 266.75 Z" fill="none" stroke="#00ff00" stroke-width="1.5"/>
<path d="M1263.55 181.35 L1269.55 181.35 L1269.55 188.35 L1273.55 188.35 L1266.55 196.35 L1259.55 188.35 L1263.55 188.35 Z" fill="none" stroke="#00ff00" stroke-width="1.5"/>
<path d="M1392.55 198.25 L1398.55 198.25 L1398.55 205.25 L1402.55 205.25 L1395.55 213.25 L1388.55 205.25 L1392.55 205.25 Z" fill="none" stroke="#00ff00" stroke-width="1.5"/>
<path d="M1218.55 165.25 L1224.55 165.25 L1224.55 172.25 L1228.55 172.25 L1221.55 180.25 L1214.55 172.25 L1218.55 172.25 Z" fill="#00ff00" stroke="#00ff00" stroke-width="1"/>
<path d="M173.05 450.5 L180.65 458.7 L176.05 458.7 L176.05 466.5 L170.05 466.5 L170.05 458.7 L165.45 458.7 Z" fill="#ff0000"/>
<path d="M537.55 182 L545.15 190.2 L540.55 190.2 L540.55 198 L534.55 198 L534.55 190.2 L529.95 190.2 Z" fill="#ff0000"/>
<path d="M599.05 323.5 L606.65 331.7 L602.05 331.7 L602.05 339.5 L596.05 339.5 L596.05 331.7 L591.45 331.7 Z" fill="#ff0000"/>
<path d="M681.55 326.5 L689.15 334.7 L684.55 334.7 L684.55 342.5 L678.55 342.5 L678.55 334.7 L673.95 334.7 Z" fill="#ff0000"/>
<path d="M758.05 313 L765.65 321.2 L761.05 321.2 L761.05 329 L755.05 329 L755.05 321.2 L750.45 321.2 Z" fill="#ff0000"/>
<path d="M932.05 281.5 L939.65 289.7 L935.05 289.7 L935.05 297.5 L929.05 297.5 L929.05 289.7 L924.45 289.7 Z" fill="#ff0000"/>
<path d="M993.55 279.5 L1001.15 287.7 L996.55 287.7 L996.55 295.5 L990.55 295.5 L990.55 287.7 L985.95 287.7 Z" fill="#ff0000"/>
<path d="M1085.05 364 L1092.65 372.2 L1088.05 372.2 L1088.05 380 L1082.05 380 L1082.05 372.2 L1077.45 372.2 Z" fill="#ff0000"/>
<path d="M1313.05 288.5 L1320.65 296.7 L1316.05 296.7 L1316.05 304.5 L1310.05 304.5 L1310.05 296.7 L1305.45 296.7 Z" fill="#ff0000"/>
<path d="M1373.05 274 L1380.65 282.2 L1376.05 282.2 L1376.05 290 L1370.05 290 L1370.05 282.2 L1365.45 282.2 Z" fill="#ff0000"/>
<rect x="2" y="195.65" width="1466" height="1.5" fill="#ffff00"/>
<rect x="2" y="248.05" width="1466" height="1.5" fill="#ffff00"/>
<rect x="2" y="294.65" width="1466" height="1.5" fill="#ffff00"/>
<rect x="2" y="332.15" width="1466" height="1.5" fill="#ffff00"/>
<rect x="2" y="407.15" width="1466" height="1.5" fill="#ffff00"/>
<rect x="1168" y="299.05" width="300" height="1.5" fill="#9c9c9c"/>
<line x1="2" y1="84.7" x2="1139" y2="522.9" stroke="#ffff00" stroke-width="1.5"/>
<line x1="481.5" y1="41.8" x2="1468" y2="419.6" stroke="#ffff00" stroke-width="1.5"/>
<line x1="656.4" y1="522.9" x2="1468" y2="249.4" stroke="#ffff00" stroke-width="1.5"/>
<line x1="1071.5" y1="41.8" x2="1468" y2="193" stroke="#ffff00" stroke-width="1.5"/>
<polyline points="5.8,480.6 13.2,481.5 20.8,482.0 28.2,483.0 35.8,483.0 43.2,483.1 50.8,483.4 58.2,482.8 65.8,481.9 73.2,481.7 80.8,481.6 88.2,481.1 95.8,480.5 104.8,479.9 112.2,479.5 119.8,479.5 127.2,479.4 134.8,478.4 142.2,476.6 149.8,474.5 157.2,471.2 164.8,468.1 172.2,466.0 179.8,462.2 187.2,458.6 194.8,455.0 202.2,451.7 209.8,447.4 217.2,439.4 226.2,432.3 233.8,425.1 241.2,418.5 248.8,410.9 256.2,402.7 263.8,394.3 271.2,385.1 278.8,376.1 286.2,370.7 293.8,364.2 301.2,357.1 308.8,351.1 316.2,346.2 323.8,340.8 331.2,333.8 340.2,327.2 347.8,320.9 355.2,314.5 362.8,308.3 370.2,303.8 377.8,300.6 385.2,296.9 392.8,294.1 400.2,289.1 407.8,282.3 415.2,275.6 422.8,268.3 430.2,260.5 437.8,253.0 445.2,246.0 452.8,239.2 461.8,233.9 469.2,228.9 476.8,224.3 484.2,218.0 491.8,211.8 499.2,206.1 506.8,200.2 514.2,195.8 521.8,192.0 529.2,188.3 536.8,186.5 544.2,185.8 551.8,185.7 559.2,185.2 566.8,188.8 574.2,191.8 583.2,195.5 590.8,200.0 598.2,202.3 605.8,205.3 613.2,208.7 620.8,210.7 628.2,212.2 635.8,215.4 643.2,218.6 650.8,221.0 658.2,223.6 665.8,227.0 673.2,230.3 680.8,232.5 688.2,234.2 697.2,235.7 704.8,237.4 712.2,239.2 719.8,241.2 727.2,243.7 734.8,246.2 742.2,249.3 749.8,251.7 757.2,252.3 764.8,253.2 772.2,254.1 779.8,255.6 787.2,257.0 794.8,258.3 802.2,258.8 809.8,257.6 818.8,256.1 826.2,254.5 833.8,253.6 841.2,252.8 848.8,251.6 856.2,250.9 863.8,248.6 871.2,246.5 878.8,245.0 886.2,244.0 893.8,242.8 901.2,243.5 908.8,244.4 916.2,245.4 923.8,246.4 931.2,247.1 940.2,247.4 947.8,247.9 955.2,248.5 962.8,249.8 970.2,250.5 977.8,252.0 985.2,253.3 992.8,253.9 1000.2,254.1 1007.8,254.1 1015.2,254.2 1022.8,254.0 1030.2,254.2 1037.8,255.1 1045.2,257.0 1054.2,259.8 1061.8,263.6 1069.2,267.5 1076.8,270.6 1084.2,274.1 1091.8,276.4 1099.2,279.1 1106.8,281.4 1114.2,283.5 1121.8,285.2 1129.2,285.5 1136.8,285.8 1144.2,286.2 1151.8,286.4 1159.2,286.3 1166.8,287.0 1175.8,286.8 1183.2,286.7 1190.8,286.8 1198.2,286.9 1205.8,286.1 1213.2,285.2 1220.8,283.7 1228.2,281.5 1235.8,279.2 1243.2,276.3 1250.8,273.6 1258.2,271.4 1265.8,268.6 1273.2,266.0 1280.8,264.7 1288.2,263.4 1297.2,261.8 1304.8,259.9 1312.2,258.9 1319.8,257.8 1327.2,257.4 1334.8,257.7 1342.2,257.8 1349.8,258.6 1357.2,259.2 1364.8,259.5 1372.2,259.3 1379.8,258.4 1387.2,256.7 1394.8,255.5 1402.2,254.6 1411.2,253.8 1418.8,254.1 1426.2,254.2 1433.8,254.0 1441.2,254.1" fill="none" stroke="#ffff00" stroke-width="1.35" stroke-linejoin="round"/>
<polyline points="5.8,514.8 13.2,513.3 20.8,510.4 28.2,509.6 35.8,505.7 43.2,502.4 50.8,500.6 58.2,495.6 65.8,490.2 73.2,488.3 80.8,486.7 88.2,484.1 95.8,481.0 104.8,478.9 112.2,477.3 119.8,477.8 127.2,477.4 134.8,473.8 142.2,467.5 149.8,460.6 157.2,449.8 164.8,440.9 172.2,436.9 179.8,426.7 187.2,417.9 194.8,409.9 202.2,404.2 209.8,394.6 217.2,371.4 226.2,353.8 233.8,337.7 241.2,325.3 248.8,309.8 256.2,293.3 263.8,277.2 271.2,258.9 278.8,243.0 286.2,242.3 293.8,236.5 301.2,228.5 308.8,224.5 316.2,224.8 323.8,222.4 331.2,213.1 340.2,205.8 347.8,199.6 355.2,193.3 362.8,187.7 370.2,188.6 377.8,193.8 385.2,195.7 392.8,200.2 400.2,194.9 407.8,182.7 415.2,171.9 422.8,159.0 430.2,145.2 437.8,133.7 445.2,124.7 452.8,116.6 461.8,114.8 469.2,113.3 476.8,112.9 484.2,105.6 491.8,98.5 499.2,93.5 506.8,87.6 514.2,87.7 521.8,89.5 529.2,90.6 536.8,98.9 544.2,109.5 551.8,120.6 559.2,128.7 566.8,151.6 574.2,169.3 583.2,187.2 590.8,206.3 598.2,214.2 605.8,224.2 613.2,234.6 620.8,238.2 628.2,240.0 635.8,248.1 643.2,255.9 650.8,259.3 658.2,263.6 665.8,270.9 673.2,277.2 680.8,278.7 688.2,278.1 697.2,277.2 704.8,277.6 712.2,278.5 719.8,280.1 727.2,284.1 734.8,287.5 742.2,293.4 749.8,296.1 757.2,291.5 764.8,289.2 772.2,287.1 779.8,287.9 787.2,288.3 794.8,288.6 802.2,285.8 809.8,277.0 818.8,268.2 826.2,260.0 833.8,255.6 841.2,252.4 848.8,247.8 856.2,245.4 863.8,237.4 871.2,230.7 878.8,227.5 886.2,226.0 893.8,224.2 901.2,229.9 908.8,235.4 916.2,240.9 923.8,245.5 931.2,248.2 940.2,249.4 947.8,250.9 955.2,252.8 962.8,257.2 970.2,258.9 977.8,263.6 985.2,266.6 992.8,266.9 1000.2,265.7 1007.8,264.1 1015.2,262.9 1022.8,260.7 1030.2,260.6 1037.8,263.1 1045.2,269.1 1054.2,278.6 1061.8,290.6 1069.2,301.6 1076.8,308.5 1084.2,316.4 1091.8,319.1 1099.2,323.0 1106.8,325.3 1114.2,326.6 1121.8,326.9 1129.2,321.5 1136.8,317.1 1144.2,313.7 1151.8,310.3 1159.2,306.3 1166.8,305.9 1175.8,302.3 1183.2,299.6 1190.8,297.8 1198.2,296.5 1205.8,292.0 1213.2,287.6 1220.8,281.3 1228.2,273.3 1235.8,265.3 1243.2,256.2 1250.8,248.7 1258.2,243.6 1265.8,237.1 1273.2,231.7 1280.8,232.1 1288.2,231.8 1297.2,230.2 1304.8,228.0 1312.2,229.0 1319.8,229.2 1327.2,232.0 1334.8,237.0 1342.2,240.7 1349.8,246.4 1357.2,250.7 1364.8,253.1 1372.2,253.3 1379.8,250.6 1387.2,245.2 1394.8,242.3 1402.2,241.0 1411.2,239.9 1418.8,242.9 1426.2,245.2 1433.8,245.9 1441.2,247.6" fill="none" stroke="#e4e4e4" stroke-width="1.35" stroke-linejoin="round"/>
<path d="M2 452 L14.5 469.5 L14.5 514 L2 533 Z" fill="#555" fill-opacity="0.55" stroke="#7a7a7a" stroke-width="1.3"/>
<path d="M3 484 L10.8 491 L3 498.2 Z" fill="#e69a00"/>
<line x1="13" y1="509.2" x2="31.5" y2="509.2" stroke="#f0f0f0" stroke-width="1.5"/>
<path d="M12.6 505.5 L12.6 511.5 M12.6 509.2 L16.5 506.5" stroke="#d0d0d0" stroke-width="1.5" fill="none"/>
<line x1="441" y1="47.5" x2="458" y2="50.5" stroke="#d8d8d8" stroke-width="1.3"/>
<path d="M440 43 L440 50 M440 43.5 L445 43.5 M440 47 L444.5 47" stroke="#d8d8d8" stroke-width="1.3" fill="none"/>
</g>
<g clip-path="url(#vp)">
<rect x="4.2" y="667.55" width="3.1" height="46.5" fill="none" stroke="#ff3636" stroke-width="1.5"/><rect x="10.95" y="674.5" width="4.6" height="40.3" fill="#00ffff"/><rect x="19.2" y="678.75" width="3.1" height="35.3" fill="none" stroke="#ff3636" stroke-width="1.5"/><rect x="25.95" y="678" width="4.6" height="36.8" fill="#00ffff"/><rect x="34.2" y="677.05" width="3.1" height="37" fill="none" stroke="#ff3636" stroke-width="1.5"/><rect x="41.7" y="677.95" width="3.1" height="36.1" fill="none" stroke="#ff3636" stroke-width="1.5"/><rect x="48.45" y="677.2" width="4.6" height="37.6" fill="#00ffff"/><rect x="56.7" y="667.75" width="3.1" height="46.3" fill="none" stroke="#ff3636" stroke-width="1.5"/><rect x="64.2" y="676.75" width="3.1" height="37.3" fill="none" stroke="#ff3636" stroke-width="1.5"/><rect x="70.95" y="675.4" width="4.6" height="39.4" fill="#00ffff"/><rect x="79.2" y="682.75" width="3.1" height="31.3" fill="none" stroke="#ff3636" stroke-width="1.5"/><rect x="86.7" y="677.45" width="3.1" height="36.6" fill="none" stroke="#ff3636" stroke-width="1.5"/><rect x="94.2" y="675.25" width="3.1" height="38.8" fill="none" stroke="#ff3636" stroke-width="1.5"/><rect x="102.45" y="678" width="4.6" height="36.8" fill="#00ffff"/><rect x="110.7" y="678.75" width="3.1" height="35.3" fill="none" stroke="#ff3636" stroke-width="1.5"/><rect x="117.45" y="683" width="4.6" height="31.8" fill="#00ffff"/><rect x="125.7" y="678.75" width="3.1" height="35.3" fill="none" stroke="#ff3636" stroke-width="1.5"/><rect x="133.2" y="682.45" width="3.1" height="31.6" fill="none" stroke="#ff3636" stroke-width="1.5"/><rect x="140.7" y="677.05" width="3.1" height="37" fill="none" stroke="#ff3636" stroke-width="1.5"/><rect x="148.2" y="669.05" width="3.1" height="45" fill="none" stroke="#ff3636" stroke-width="1.5"/><rect x="155.7" y="654.15" width="3.1" height="59.9" fill="none" stroke="#ff3636" stroke-width="1.5"/><rect x="163.2" y="666.35" width="3.1" height="47.7" fill="none" stroke="#ff3636" stroke-width="1.5"/><rect x="169.95" y="665.6" width="4.6" height="49.2" fill="#00ffff"/><rect x="178.2" y="651.15" width="3.1" height="62.9" fill="none" stroke="#ff3636" stroke-width="1.5"/><rect x="184.95" y="642.7" width="4.6" height="72.1" fill="#00ffff"/><rect x="193.2" y="654.15" width="3.1" height="59.9" fill="none" stroke="#ff3636" stroke-width="1.5"/><rect x="199.95" y="639.6" width="4.6" height="75.2" fill="#00ffff"/><rect x="208.2" y="640.75" width="3.1" height="73.3" fill="none" stroke="#ff3636" stroke-width="1.5"/><rect x="215.7" y="585.25" width="3.1" height="128.8" fill="none" stroke="#ff3636" stroke-width="1.5"/><rect x="223.95" y="575.2" width="4.6" height="139.6" fill="#00ffff"/><rect x="232.2" y="598.75" width="3.1" height="115.3" fill="none" stroke="#ff3636" stroke-width="1.5"/><rect x="238.95" y="629" width="4.6" height="85.8" fill="#00ffff"/><rect x="247.2" y="630.05" width="3.1" height="84" fill="none" stroke="#ff3636" stroke-width="1.5"/><rect x="254.7" y="585.25" width="3.1" height="128.8" fill="none" stroke="#ff3636" stroke-width="1.5"/><rect x="262.2" y="610.75" width="3.1" height="103.3" fill="none" stroke="#ff3636" stroke-width="1.5"/><rect x="269.7" y="578.75" width="3.1" height="135.3" fill="none" stroke="#ff3636" stroke-width="1.5"/><rect x="277.2" y="571.75" width="3.1" height="142.3" fill="none" stroke="#ff3636" stroke-width="1.5"/><rect x="283.95" y="572.2" width="4.6" height="142.6" fill="#00ffff"/><rect x="292.2" y="610.75" width="3.1" height="103.3" fill="none" stroke="#ff3636" stroke-width="1.5"/><rect x="299.7" y="589.75" width="3.1" height="124.3" fill="none" stroke="#ff3636" stroke-width="1.5"/><rect x="306.45" y="602" width="4.6" height="112.8" fill="#00ffff"/><rect x="313.95" y="621.7" width="4.6" height="93.1" fill="#00ffff"/><rect x="322.2" y="631.75" width="3.1" height="82.3" fill="none" stroke="#ff3636" stroke-width="1.5"/><rect x="329.7" y="616.75" width="3.1" height="97.3" fill="none" stroke="#ff3636" stroke-width="1.5"/><rect x="337.95" y="627.7" width="4.6" height="87.1" fill="#00ffff"/><rect x="346.2" y="626.95" width="3.1" height="87.1" fill="none" stroke="#ff3636" stroke-width="1.5"/><rect x="353.7" y="614.05" width="3.1" height="100" fill="none" stroke="#ff3636" stroke-width="1.5"/><rect x="361.2" y="625.75" width="3.1" height="88.3" fill="none" stroke="#ff3636" stroke-width="1.5"/><rect x="367.95" y="620.9" width="4.6" height="93.9" fill="#00ffff"/><rect x="375.45" y="627.7" width="4.6" height="87.1" fill="#00ffff"/><rect x="383.7" y="643.65" width="3.1" height="70.4" fill="none" stroke="#ff3636" stroke-width="1.5"/><rect x="390.45" y="642.7" width="4.6" height="72.1" fill="#00ffff"/><rect x="398.7" y="622.75" width="3.1" height="91.3" fill="none" stroke="#ff3636" stroke-width="1.5"/><rect x="406.2" y="600.15" width="3.1" height="113.9" fill="none" stroke="#ff3636" stroke-width="1.5"/><rect x="412.95" y="603.8" width="4.6" height="111" fill="#00ffff"/><rect x="421.2" y="609.05" width="3.1" height="105" fill="none" stroke="#ff3636" stroke-width="1.5"/><rect x="428.7" y="600.15" width="3.1" height="113.9" fill="none" stroke="#ff3636" stroke-width="1.5"/><rect x="435.45" y="590.4" width="4.6" height="124.4" fill="#00ffff"/><rect x="442.95" y="624.8" width="4.6" height="90" fill="#00ffff"/><rect x="451.2" y="621.05" width="3.1" height="93" fill="none" stroke="#ff3636" stroke-width="1.5"/><rect x="459.45" y="627.7" width="4.6" height="87.1" fill="#00ffff"/><rect x="467.7" y="643.65" width="3.1" height="70.4" fill="none" stroke="#ff3636" stroke-width="1.5"/><rect x="474.45" y="628" width="4.6" height="86.8" fill="#00ffff"/><rect x="482.7" y="627.35" width="3.1" height="86.7" fill="none" stroke="#ff3636" stroke-width="1.5"/><rect x="490.2" y="627.35" width="3.1" height="86.7" fill="none" stroke="#ff3636" stroke-width="1.5"/><rect x="496.95" y="633.4" width="4.6" height="81.4" fill="#00ffff"/><rect x="505.2" y="637.75" width="3.1" height="76.3" fill="none" stroke="#ff3636" stroke-width="1.5"/><rect x="511.95" y="628" width="4.6" height="86.8" fill="#00ffff"/><rect x="519.45" y="633.4" width="4.6" height="81.4" fill="#00ffff"/><rect x="526.95" y="645.5" width="4.6" height="69.3" fill="#00ffff"/><rect x="534.45" y="636" width="4.6" height="78.8" fill="#00ffff"/><rect x="541.95" y="644" width="4.6" height="70.8" fill="#00ffff"/><rect x="549.45" y="642.7" width="4.6" height="72.1" fill="#00ffff"/><rect x="557.7" y="660.05" width="3.1" height="54" fill="none" stroke="#ff3636" stroke-width="1.5"/><rect x="564.45" y="633.4" width="4.6" height="81.4" fill="#00ffff"/><rect x="572.7" y="652.95" width="3.1" height="61.1" fill="none" stroke="#ff3636" stroke-width="1.5"/><rect x="581.7" y="657.05" width="3.1" height="57" fill="none" stroke="#ff3636" stroke-width="1.5"/><rect x="588.45" y="665.2" width="4.6" height="49.6" fill="#00ffff"/><rect x="596.7" y="644.75" width="3.1" height="69.3" fill="none" stroke="#ff3636" stroke-width="1.5"/><rect x="603.45" y="662.4" width="4.6" height="52.4" fill="#00ffff"/><rect x="611.7" y="663.15" width="3.1" height="50.9" fill="none" stroke="#ff3636" stroke-width="1.5"/><rect x="619.2" y="659.15" width="3.1" height="54.9" fill="none" stroke="#ff3636" stroke-width="1.5"/><rect x="626.7" y="654.15" width="3.1" height="59.9" fill="none" stroke="#ff3636" stroke-width="1.5"/><rect x="633.45" y="649" width="4.6" height="65.8" fill="#00ffff"/><rect x="640.95" y="662.4" width="4.6" height="52.4" fill="#00ffff"/><rect x="649.2" y="663.15" width="3.1" height="50.9" fill="none" stroke="#ff3636" stroke-width="1.5"/><rect x="655.95" y="665.2" width="4.6" height="49.6" fill="#00ffff"/><rect x="663.45" y="665.2" width="4.6" height="49.6" fill="#00ffff"/><rect x="671.7" y="673.55" width="3.1" height="40.5" fill="none" stroke="#ff3636" stroke-width="1.5"/><rect x="679.2" y="666.35" width="3.1" height="47.7" fill="none" stroke="#ff3636" stroke-width="1.5"/><rect x="686.7" y="660.05" width="3.1" height="54" fill="none" stroke="#ff3636" stroke-width="1.5"/><rect x="695.7" y="666.35" width="3.1" height="47.7" fill="none" stroke="#ff3636" stroke-width="1.5"/><rect x="703.2" y="664.55" width="3.1" height="49.5" fill="none" stroke="#ff3636" stroke-width="1.5"/><rect x="709.95" y="665.2" width="4.6" height="49.6" fill="#00ffff"/><rect x="717.45" y="661.7" width="4.6" height="53.1" fill="#00ffff"/><rect x="724.95" y="665.6" width="4.6" height="49.2" fill="#00ffff"/><rect x="732.45" y="669.5" width="4.6" height="45.3" fill="#00ffff"/><rect x="739.95" y="669.5" width="4.6" height="45.3" fill="#00ffff"/><rect x="748.2" y="673.55" width="3.1" height="40.5" fill="none" stroke="#ff3636" stroke-width="1.5"/><rect x="755.7" y="651.15" width="3.1" height="62.9" fill="none" stroke="#ff3636" stroke-width="1.5"/><rect x="762.45" y="654.9" width="4.6" height="59.9" fill="#00ffff"/><rect x="770.7" y="661.75" width="3.1" height="52.3" fill="none" stroke="#ff3636" stroke-width="1.5"/><rect x="777.45" y="660.2" width="4.6" height="54.6" fill="#00ffff"/><rect x="785.7" y="676.75" width="3.1" height="37.3" fill="none" stroke="#ff3636" stroke-width="1.5"/><rect x="792.45" y="677.2" width="4.6" height="37.6" fill="#00ffff"/><rect x="799.95" y="657.5" width="4.6" height="57.3" fill="#00ffff"/><rect x="808.2" y="643.65" width="3.1" height="70.4" fill="none" stroke="#ff3636" stroke-width="1.5"/><rect x="817.2" y="643.65" width="3.1" height="70.4" fill="none" stroke="#ff3636" stroke-width="1.5"/><rect x="824.7" y="662.75" width="3.1" height="51.3" fill="none" stroke="#ff3636" stroke-width="1.5"/><rect x="831.45" y="652.2" width="4.6" height="62.6" fill="#00ffff"/><rect x="839.7" y="672.05" width="3.1" height="42" fill="none" stroke="#ff3636" stroke-width="1.5"/><rect x="847.2" y="665.95" width="3.1" height="48.1" fill="none" stroke="#ff3636" stroke-width="1.5"/><rect x="853.95" y="669.5" width="4.6" height="45.3" fill="#00ffff"/><rect x="862.2" y="652.55" width="3.1" height="61.5" fill="none" stroke="#ff3636" stroke-width="1.5"/><rect x="869.7" y="661.75" width="3.1" height="52.3" fill="none" stroke="#ff3636" stroke-width="1.5"/><rect x="876.45" y="663.4" width="4.6" height="51.4" fill="#00ffff"/><rect x="883.95" y="665.2" width="4.6" height="49.6" fill="#00ffff"/><rect x="892.2" y="676.75" width="3.1" height="37.3" fill="none" stroke="#ff3636" stroke-width="1.5"/><rect x="898.95" y="662.4" width="4.6" height="52.4" fill="#00ffff"/><rect x="906.45" y="677.2" width="4.6" height="37.6" fill="#00ffff"/><rect x="913.95" y="680.3" width="4.6" height="34.5" fill="#00ffff"/><rect x="921.45" y="678.5" width="4.6" height="36.3" fill="#00ffff"/><rect x="929.7" y="681.05" width="3.1" height="33" fill="none" stroke="#ff3636" stroke-width="1.5"/><rect x="938.7" y="673.85" width="3.1" height="40.2" fill="none" stroke="#ff3636" stroke-width="1.5"/><rect x="945.45" y="681.7" width="4.6" height="33.1" fill="#00ffff"/><rect x="952.95" y="678.5" width="4.6" height="36.3" fill="#00ffff"/><rect x="960.45" y="677.2" width="4.6" height="37.6" fill="#00ffff"/><rect x="968.7" y="679.25" width="3.1" height="34.8" fill="none" stroke="#ff3636" stroke-width="1.5"/><rect x="975.45" y="669.5" width="4.6" height="45.3" fill="#00ffff"/><rect x="983.7" y="682.45" width="3.1" height="31.6" fill="none" stroke="#ff3636" stroke-width="1.5"/><rect x="991.2" y="679.25" width="3.1" height="34.8" fill="none" stroke="#ff3636" stroke-width="1.5"/><rect x="998.7" y="679.25" width="3.1" height="34.8" fill="none" stroke="#ff3636" stroke-width="1.5"/><rect x="1006.2" y="679.25" width="3.1" height="34.8" fill="none" stroke="#ff3636" stroke-width="1.5"/><rect x="1012.95" y="681.7" width="4.6" height="33.1" fill="#00ffff"/><rect x="1021.2" y="681.05" width="3.1" height="33" fill="none" stroke="#ff3636" stroke-width="1.5"/><rect x="1027.95" y="680.3" width="4.6" height="34.5" fill="#00ffff"/><rect x="1035.45" y="680.3" width="4.6" height="34.5" fill="#00ffff"/><rect x="1043.7" y="669.05" width="3.1" height="45" fill="none" stroke="#ff3636" stroke-width="1.5"/><rect x="1051.95" y="673.1" width="4.6" height="41.7" fill="#00ffff"/><rect x="1060.2" y="657.35" width="3.1" height="56.7" fill="none" stroke="#ff3636" stroke-width="1.5"/><rect x="1066.95" y="675.4" width="4.6" height="39.4" fill="#00ffff"/><rect x="1075.2" y="677.95" width="3.1" height="36.1" fill="none" stroke="#ff3636" stroke-width="1.5"/><rect x="1081.95" y="677.2" width="4.6" height="37.6" fill="#00ffff"/><rect x="1090.2" y="682.75" width="3.1" height="31.3" fill="none" stroke="#ff3636" stroke-width="1.5"/><rect x="1096.95" y="681.7" width="4.6" height="33.1" fill="#00ffff"/><rect x="1104.45" y="680.3" width="4.6" height="34.5" fill="#00ffff"/><rect x="1112.7" y="677.05" width="3.1" height="37" fill="none" stroke="#ff3636" stroke-width="1.5"/><rect x="1120.2" y="678.75" width="3.1" height="35.3" fill="none" stroke="#ff3636" stroke-width="1.5"/><rect x="1127.7" y="661.85" width="3.1" height="52.2" fill="none" stroke="#ff3636" stroke-width="1.5"/><rect x="1135.2" y="667.75" width="3.1" height="46.3" fill="none" stroke="#ff3636" stroke-width="1.5"/><rect x="1142.7" y="675.25" width="3.1" height="38.8" fill="none" stroke="#ff3636" stroke-width="1.5"/><rect x="1149.45" y="676.3" width="4.6" height="38.5" fill="#00ffff"/><rect x="1157.7" y="676.75" width="3.1" height="37.3" fill="none" stroke="#ff3636" stroke-width="1.5"/><rect x="1165.2" y="672.65" width="3.1" height="41.4" fill="none" stroke="#ff3636" stroke-width="1.5"/><rect x="1174.2" y="663.15" width="3.1" height="50.9" fill="none" stroke="#ff3636" stroke-width="1.5"/><rect x="1180.95" y="668.3" width="4.6" height="46.5" fill="#00ffff"/><rect x="1188.45" y="671" width="4.6" height="43.8" fill="#00ffff"/><rect x="1195.95" y="667.4" width="4.6" height="47.4" fill="#00ffff"/><rect x="1204.2" y="664.55" width="3.1" height="49.5" fill="none" stroke="#ff3636" stroke-width="1.5"/><rect x="1211.7" y="668.15" width="3.1" height="45.9" fill="none" stroke="#ff3636" stroke-width="1.5"/><rect x="1219.2" y="658.75" width="3.1" height="55.3" fill="none" stroke="#ff3636" stroke-width="1.5"/><rect x="1226.7" y="639.15" width="3.1" height="74.9" fill="none" stroke="#ff3636" stroke-width="1.5"/><rect x="1234.2" y="661.85" width="3.1" height="52.2" fill="none" stroke="#ff3636" stroke-width="1.5"/><rect x="1241.7" y="654.15" width="3.1" height="59.9" fill="none" stroke="#ff3636" stroke-width="1.5"/><rect x="1248.45" y="654.5" width="4.6" height="60.3" fill="#00ffff"/><rect x="1255.95" y="658" width="4.6" height="56.8" fill="#00ffff"/><rect x="1264.2" y="666.35" width="3.1" height="47.7" fill="none" stroke="#ff3636" stroke-width="1.5"/><rect x="1270.95" y="659" width="4.6" height="55.8" fill="#00ffff"/><rect x="1278.45" y="660.2" width="4.6" height="54.6" fill="#00ffff"/><rect x="1286.7" y="673.55" width="3.1" height="40.5" fill="none" stroke="#ff3636" stroke-width="1.5"/><rect x="1295.7" y="674.95" width="3.1" height="39.1" fill="none" stroke="#ff3636" stroke-width="1.5"/><rect x="1303.2" y="669.05" width="3.1" height="45" fill="none" stroke="#ff3636" stroke-width="1.5"/><rect x="1309.95" y="672.8" width="4.6" height="42" fill="#00ffff"/><rect x="1318.2" y="674.35" width="3.1" height="39.7" fill="none" stroke="#ff3636" stroke-width="1.5"/><rect x="1324.95" y="674.5" width="4.6" height="40.3" fill="#00ffff"/><rect x="1332.45" y="667" width="4.6" height="47.8" fill="#00ffff"/><rect x="1340.7" y="681.25" width="3.1" height="32.8" fill="none" stroke="#ff3636" stroke-width="1.5"/><rect x="1347.45" y="684.7" width="4.6" height="30.1" fill="#00ffff"/><rect x="1355.7" y="684.05" width="3.1" height="30" fill="none" stroke="#ff3636" stroke-width="1.5"/><rect x="1363.2" y="682.75" width="3.1" height="31.3" fill="none" stroke="#ff3636" stroke-width="1.5"/><rect x="1370.7" y="681.45" width="3.1" height="32.6" fill="none" stroke="#ff3636" stroke-width="1.5"/><rect x="1378.2" y="675.15" width="3.1" height="38.9" fill="none" stroke="#ff3636" stroke-width="1.5"/><rect x="1385.7" y="663.15" width="3.1" height="50.9" fill="none" stroke="#ff3636" stroke-width="1.5"/><rect x="1392.45" y="676.7" width="4.6" height="38.1" fill="#00ffff"/><rect x="1399.95" y="678.5" width="4.6" height="36.3" fill="#00ffff"/><rect x="1408.95" y="683.4" width="4.6" height="31.4" fill="#00ffff"/><rect x="1416.45" y="678.5" width="4.6" height="36.3" fill="#00ffff"/><rect x="1424.7" y="682.35" width="3.1" height="31.7" fill="none" stroke="#ff3636" stroke-width="1.5"/><rect x="1432.2" y="685.45" width="3.1" height="28.6" fill="none" stroke="#ff3636" stroke-width="1.5"/><rect x="1438.95" y="683.4" width="4.6" height="31.4" fill="#00ffff"/>
<polyline points="5.8,679.6 13.2,678.9 20.8,678.6 28.2,678.3 35.8,677.9 43.2,677.5 50.8,677.1 58.2,675.7 65.8,675.2 73.2,674.6 80.8,676.2 88.2,676.4 95.8,676.0 104.8,676.0 112.2,676.2 119.8,676.8 127.2,676.9 134.8,678.3 142.2,678.4 149.8,677.6 157.2,674.8 164.8,673.7 172.2,672.8 179.8,670.0 187.2,666.5 194.8,663.5 202.2,659.7 209.8,655.5 217.2,646.4 226.2,637.0 233.8,631.5 241.2,627.8 248.8,624.2 256.2,617.6 263.8,614.4 271.2,606.8 278.8,600.0 286.2,593.2 293.8,595.7 301.2,597.1 308.8,597.5 316.2,596.8 323.8,596.9 331.2,600.1 340.2,601.9 347.8,606.7 355.2,610.9 362.8,616.2 370.2,617.3 377.8,621.1 385.2,625.2 392.8,627.3 400.2,626.4 407.8,624.8 415.2,622.4 422.8,620.6 430.2,619.2 437.8,615.8 445.2,616.1 452.8,615.4 461.8,613.9 469.2,613.9 476.8,614.5 484.2,617.2 491.8,619.5 499.2,622.0 506.8,625.8 514.2,629.5 521.8,630.4 529.2,632.9 536.8,633.7 544.2,633.9 551.8,635.3 559.2,638.6 566.8,639.3 574.2,641.1 583.2,643.1 590.8,646.8 598.2,647.9 605.8,649.5 613.2,652.2 620.8,653.6 628.2,654.7 635.8,653.7 643.2,656.6 650.8,657.6 658.2,658.5 665.8,658.5 673.2,661.4 680.8,661.7 688.2,661.4 697.2,662.1 704.8,663.1 712.2,664.8 719.8,664.7 727.2,665.0 734.8,665.4 742.2,665.9 749.8,665.9 757.2,664.3 764.8,663.9 772.2,663.4 779.8,663.1 787.2,664.2 794.8,665.7 802.2,664.9 809.8,662.2 818.8,659.6 826.2,658.5 833.8,658.7 841.2,660.3 848.8,660.7 856.2,661.7 863.8,659.2 871.2,657.6 878.8,658.2 886.2,660.5 893.8,663.8 901.2,663.8 908.8,666.3 916.2,667.2 923.8,668.5 931.2,669.6 940.2,671.7 947.8,673.8 955.2,675.3 962.8,676.5 970.2,676.8 977.8,677.5 985.2,677.9 992.8,677.8 1000.2,677.8 1007.8,677.6 1015.2,678.4 1022.8,678.3 1030.2,678.5 1037.8,678.8 1045.2,677.8 1054.2,678.1 1061.8,675.6 1069.2,675.3 1076.8,675.2 1084.2,675.0 1091.8,675.1 1099.2,675.2 1106.8,675.2 1114.2,674.8 1121.8,675.8 1129.2,674.6 1136.8,675.6 1144.2,675.5 1151.8,675.4 1159.2,675.3 1166.8,674.3 1175.8,672.4 1183.2,671.2 1190.8,670.6 1198.2,669.6 1205.8,669.9 1213.2,669.9 1220.8,668.2 1228.2,664.5 1235.8,663.0 1243.2,661.1 1250.8,660.3 1258.2,659.3 1265.8,658.8 1273.2,657.9 1280.8,657.6 1288.2,658.1 1297.2,659.7 1304.8,662.7 1312.2,663.9 1319.8,665.9 1327.2,667.9 1334.8,668.8 1342.2,670.3 1349.8,672.9 1357.2,675.2 1364.8,676.1 1372.2,676.7 1379.8,677.4 1387.2,676.3 1394.8,676.6 1402.2,677.0 1411.2,678.7 1418.8,678.5 1426.2,678.1 1433.8,678.3 1441.2,678.4" fill="none" stroke="#ffff00" stroke-width="1.35" stroke-linejoin="round"/>
<polyline points="5.8,671.0 13.2,671.5 20.8,672.7 28.2,673.9 35.8,674.7 43.2,676.8 50.8,677.3 58.2,675.1 65.8,674.7 73.2,674.6 80.8,675.5 88.2,675.4 95.8,676.9 104.8,677.3 112.2,677.8 119.8,678.0 127.2,678.3 134.8,679.7 142.2,679.4 149.8,677.5 157.2,671.5 164.8,669.1 172.2,665.8 179.8,660.7 187.2,655.5 194.8,655.5 202.2,650.3 209.8,645.2 217.2,632.0 226.2,618.5 233.8,607.5 241.2,605.3 248.8,603.2 256.2,603.2 263.8,610.2 271.2,606.2 278.8,594.6 286.2,583.1 293.8,588.2 301.2,584.0 308.8,588.8 316.2,599.0 323.8,610.7 331.2,611.9 340.2,619.7 347.8,624.5 355.2,622.8 362.8,621.6 370.2,622.6 377.8,622.6 385.2,626.0 392.8,631.8 400.2,631.2 407.8,626.9 415.2,622.2 422.8,615.2 430.2,606.6 437.8,600.3 445.2,605.3 452.8,608.6 461.8,612.5 469.2,621.2 476.8,628.7 484.2,629.1 491.8,630.4 499.2,631.5 506.8,630.3 514.2,630.3 521.8,631.7 529.2,635.5 536.8,636.0 544.2,637.4 551.8,640.3 559.2,645.5 566.8,643.1 574.2,646.3 583.2,648.8 590.8,653.3 598.2,650.2 605.8,656.0 613.2,658.1 620.8,658.5 628.2,656.1 635.8,657.1 643.2,657.1 650.8,657.1 658.2,658.5 665.8,660.8 673.2,665.6 680.8,666.2 688.2,665.6 697.2,665.7 704.8,665.4 712.2,663.9 719.8,663.1 727.2,664.4 734.8,665.2 742.2,666.3 749.8,667.8 757.2,665.6 764.8,663.4 772.2,661.7 779.8,659.9 787.2,660.5 794.8,665.9 802.2,666.4 809.8,662.8 818.8,659.3 826.2,656.5 833.8,651.5 841.2,654.3 848.8,658.7 856.2,664.0 863.8,662.0 871.2,663.8 878.8,662.2 886.2,662.2 893.8,663.5 901.2,665.6 908.8,668.8 916.2,672.2 923.8,674.9 931.2,675.7 940.2,677.9 947.8,678.8 955.2,678.4 962.8,678.2 970.2,677.8 977.8,677.1 985.2,677.1 992.8,677.1 1000.2,677.3 1007.8,677.3 1015.2,679.8 1022.8,679.5 1030.2,679.9 1037.8,680.2 1045.2,678.2 1054.2,676.5 1061.8,671.7 1069.2,670.7 1076.8,670.1 1084.2,671.9 1091.8,673.7 1099.2,678.7 1106.8,679.7 1114.2,679.5 1121.8,679.7 1129.2,675.5 1136.8,672.5 1144.2,671.4 1151.8,671.4 1159.2,671.0 1166.8,673.1 1175.8,672.2 1183.2,671.0 1190.8,669.9 1198.2,668.2 1205.8,666.6 1213.2,667.6 1220.8,665.5 1228.2,659.0 1235.8,657.7 1243.2,655.7 1250.8,653.1 1258.2,653.1 1265.8,658.5 1273.2,658.1 1280.8,659.5 1288.2,663.1 1297.2,666.4 1304.8,666.9 1312.2,669.7 1319.8,672.3 1327.2,672.7 1334.8,671.2 1342.2,673.7 1349.8,676.1 1357.2,678.0 1364.8,679.5 1372.2,682.2 1379.8,681.0 1387.2,676.6 1394.8,675.2 1402.2,674.5 1411.2,675.1 1418.8,675.9 1426.2,679.7 1433.8,681.3 1441.2,682.3" fill="none" stroke="#e4e4e4" stroke-width="1.35" stroke-linejoin="round"/>
</g>
<g clip-path="url(#kp)">
<polyline points="5.8,814.0 13.2,807.2 20.8,799.4 28.2,796.0 35.8,791.1 43.2,786.1 50.8,784.5 58.2,781.5 65.8,779.2 73.2,781.8 80.8,786.2 88.2,789.1 95.8,789.6 104.8,792.2 112.2,795.8 119.8,803.3 127.2,810.3 134.8,809.8 142.2,804.4 149.8,797.3 157.2,790.5 164.8,784.8 172.2,783.0 179.8,779.9 187.2,778.0 194.8,776.5 202.2,777.1 209.8,775.8 217.2,773.7 226.2,773.7 233.8,774.1 241.2,775.3 248.8,774.5 256.2,774.8 263.8,774.8 271.2,773.4 278.8,772.4 286.2,780.4 293.8,788.2 301.2,793.0 308.8,797.8 316.2,806.3 323.8,813.4 331.2,813.1 340.2,810.1 347.8,805.5 355.2,799.9 362.8,794.3 370.2,794.5 377.8,801.1 385.2,808.7 392.8,818.8 400.2,819.6 407.8,813.7 415.2,806.3 422.8,798.2 430.2,790.8 437.8,785.9 445.2,782.9 452.8,781.0 461.8,782.1 469.2,787.1 476.8,796.3 484.2,799.3 491.8,798.3 499.2,796.7 506.8,792.5 514.2,793.6 521.8,798.6 529.2,804.4 536.8,814.6 544.2,825.5 551.8,835.1 559.2,842.1 566.8,847.9 574.2,851.8 583.2,855.1 590.8,858.3 598.2,857.9 605.8,856.6 613.2,855.8 620.8,852.4 628.2,843.7 635.8,838.5 643.2,836.4 650.8,832.6 658.2,829.8 665.8,831.9 673.2,836.0 680.8,836.2 688.2,832.6 697.2,827.3 704.8,821.3 712.2,816.4 719.8,813.7 727.2,815.7 734.8,819.6 742.2,826.7 749.8,831.7 757.2,827.0 764.8,819.8 772.2,812.1 779.8,808.2 787.2,806.3 794.8,805.2 802.2,803.2 809.8,798.3 818.8,792.6 826.2,787.1 833.8,784.5 841.2,784.1 848.8,783.0 856.2,783.0 863.8,780.7 871.2,777.9 878.8,778.7 886.2,782.6 893.8,786.6 901.2,796.5 908.8,808.3 916.2,820.0 923.8,830.4 931.2,837.6 940.2,840.3 947.8,841.2 955.2,841.2 962.8,843.8 970.2,842.1 977.8,843.4 985.2,844.1 992.8,840.2 1000.2,832.0 1007.8,821.0 1015.2,810.7 1022.8,802.0 1030.2,797.8 1037.8,800.0 1045.2,807.5 1054.2,818.0 1061.8,826.5 1069.2,833.6 1076.8,838.0 1084.2,841.8 1091.8,842.3 1099.2,841.9 1106.8,838.4 1114.2,833.0 1121.8,824.5 1129.2,813.9 1136.8,804.2 1144.2,796.2 1151.8,789.3 1159.2,783.7 1166.8,782.0 1175.8,780.5 1183.2,780.7 1190.8,782.6 1198.2,786.8 1205.8,786.0 1213.2,783.1 1220.8,779.6 1228.2,778.1 1235.8,777.2 1243.2,775.1 1250.8,773.1 1258.2,772.9 1265.8,771.7 1273.2,771.3 1280.8,777.0 1288.2,787.9 1297.2,797.5 1304.8,803.7 1312.2,811.8 1319.8,818.7 1327.2,827.7 1334.8,836.7 1342.2,843.4 1349.8,849.6 1357.2,854.1 1364.8,855.2 1372.2,852.0 1379.8,843.5 1387.2,832.2 1394.8,822.6 1402.2,816.0 1411.2,811.7 1418.8,812.7 1426.2,815.9 1433.8,819.8 1441.2,824.9" fill="none" stroke="#ffff00" stroke-width="1.35" stroke-linejoin="round"/>
<polyline points="5.8,795.2 13.2,793.7 20.8,783.8 28.2,789.3 35.8,781.3 43.2,776.1 50.8,781.4 58.2,775.3 65.8,774.8 73.2,786.9 80.8,795.0 88.2,794.8 95.8,790.6 104.8,797.3 112.2,803.0 119.8,818.4 127.2,824.2 134.8,808.9 142.2,793.4 149.8,783.2 157.2,776.8 164.8,773.4 172.2,779.4 179.8,773.8 187.2,774.2 194.8,773.5 202.2,778.2 209.8,773.1 217.2,769.7 226.2,773.7 233.8,775.0 241.2,777.6 248.8,772.8 256.2,775.5 263.8,774.7 271.2,770.7 278.8,770.3 286.2,796.5 293.8,803.7 301.2,802.5 308.8,807.6 316.2,823.3 323.8,827.5 331.2,812.6 340.2,804.1 347.8,796.2 355.2,788.6 362.8,783.3 370.2,794.9 377.8,814.1 385.2,823.9 392.8,839.0 400.2,821.4 407.8,801.8 415.2,791.6 422.8,781.9 430.2,776.0 437.8,776.0 445.2,777.1 452.8,777.2 461.8,784.3 469.2,797.1 476.8,814.6 484.2,805.2 491.8,796.3 499.2,793.6 506.8,784.2 514.2,795.7 521.8,808.7 529.2,815.9 536.8,834.9 544.2,847.4 551.8,854.2 559.2,856.2 566.8,859.3 574.2,859.7 583.2,861.6 590.8,864.9 598.2,857.0 605.8,854.1 613.2,854.2 620.8,845.6 628.2,826.2 635.8,828.1 643.2,832.3 650.8,824.8 658.2,824.3 665.8,836.2 673.2,844.3 680.8,836.4 688.2,825.4 697.2,816.7 704.8,809.5 712.2,806.5 719.8,808.4 727.2,819.7 734.8,827.3 742.2,841.0 749.8,841.8 757.2,817.7 764.8,805.3 772.2,796.6 779.8,800.6 787.2,802.3 794.8,803.1 802.2,799.2 809.8,788.4 818.8,781.3 826.2,776.0 833.8,779.5 841.2,783.3 848.8,780.7 856.2,782.9 863.8,776.3 871.2,772.4 878.8,780.3 886.2,790.2 893.8,794.6 901.2,816.5 908.8,831.7 916.2,843.6 923.8,851.1 931.2,852.0 940.2,845.9 947.8,842.8 955.2,841.2 962.8,849.2 970.2,838.5 977.8,846.1 985.2,845.4 992.8,832.3 1000.2,815.7 1007.8,799.0 1015.2,790.2 1022.8,784.5 1030.2,789.3 1037.8,804.6 1045.2,822.5 1054.2,839.1 1061.8,843.5 1069.2,847.8 1076.8,846.8 1084.2,849.4 1091.8,843.1 1099.2,841.1 1106.8,831.5 1114.2,822.3 1121.8,807.3 1129.2,792.8 1136.8,784.7 1144.2,780.3 1151.8,775.6 1159.2,772.5 1166.8,778.6 1175.8,777.6 1183.2,780.9 1190.8,786.6 1198.2,795.1 1205.8,784.5 1213.2,777.3 1220.8,772.5 1228.2,775.3 1235.8,775.2 1243.2,771.1 1250.8,769.0 1258.2,772.5 1265.8,769.2 1273.2,770.7 1280.8,788.4 1288.2,809.8 1297.2,816.5 1304.8,816.3 1312.2,827.8 1319.8,832.4 1327.2,845.8 1334.8,854.7 1342.2,856.7 1349.8,862.0 1357.2,863.0 1364.8,857.5 1372.2,845.6 1379.8,826.6 1387.2,809.7 1394.8,803.3 1402.2,802.9 1411.2,802.9 1418.8,814.9 1426.2,822.3 1433.8,827.5 1441.2,835.1" fill="none" stroke="#e4e4e4" stroke-width="1.35" stroke-linejoin="round"/>
<polyline points="5.8,757.7 13.2,766.7 20.8,752.6 28.2,775.8 35.8,761.6 43.2,756.1 50.8,775.1 58.2,763.0 65.8,765.9 73.2,797.1 80.8,812.6 88.2,806.3 95.8,792.7 104.8,807.7 112.2,817.5 119.8,848.6 127.2,851.9 134.8,807.0 142.2,771.6 149.8,755.0 157.2,749.5 164.8,750.7 172.2,772.3 179.8,761.6 187.2,766.5 194.8,767.6 202.2,780.4 209.8,767.9 217.2,761.5 226.2,773.7 233.8,776.6 241.2,782.2 248.8,769.4 256.2,776.8 263.8,774.7 271.2,765.2 278.8,766.1 286.2,828.8 293.8,834.7 301.2,821.7 308.8,827.0 316.2,857.3 323.8,855.7 331.2,811.5 340.2,792.1 347.8,777.6 355.2,766.2 362.8,761.1 370.2,795.6 377.8,840.3 385.2,854.4 392.8,879.4 400.2,824.9 407.8,778.0 415.2,762.1 422.8,749.4 430.2,746.5 437.8,756.3 445.2,765.3 452.8,769.4 461.8,788.6 469.2,817.2 476.8,851.3 484.2,817.1 491.8,792.3 499.2,787.5 506.8,767.5 514.2,799.8 521.8,829.0 529.2,839.0 536.8,875.5 544.2,891.1 551.8,892.4 559.2,884.4 566.8,882.3 574.2,875.5 583.2,874.6 590.8,877.9 598.2,855.3 605.8,849.1 613.2,851.0 620.8,831.8 628.2,791.2 635.8,807.5 643.2,824.1 650.8,809.4 658.2,813.2 665.8,844.7 673.2,860.7 680.8,836.9 688.2,811.1 697.2,795.5 704.8,785.7 712.2,786.7 719.8,797.6 727.2,827.7 734.8,842.7 742.2,869.6 749.8,861.8 757.2,798.9 764.8,776.3 772.2,765.6 779.8,785.3 787.2,794.5 794.8,798.8 802.2,791.2 809.8,768.6 818.8,758.6 826.2,753.9 833.8,769.3 841.2,781.6 848.8,776.1 856.2,782.9 863.8,767.3 871.2,761.2 878.8,783.5 886.2,805.6 893.8,810.7 901.2,856.3 908.8,878.7 916.2,890.6 923.8,892.6 931.2,880.7 940.2,856.9 947.8,846.0 955.2,841.3 962.8,859.9 970.2,831.3 977.8,851.5 985.2,848.0 992.8,816.7 1000.2,783.1 1007.8,755.0 1015.2,749.2 1022.8,749.6 1030.2,772.3 1037.8,813.7 1045.2,852.3 1054.2,881.2 1061.8,877.4 1069.2,876.3 1076.8,864.3 1084.2,864.6 1091.8,844.9 1099.2,839.4 1106.8,817.6 1114.2,800.9 1121.8,773.0 1129.2,750.6 1136.8,745.8 1144.2,748.5 1151.8,748.0 1159.2,750.0 1166.8,771.9 1175.8,771.7 1183.2,781.3 1190.8,794.5 1198.2,811.7 1205.8,781.3 1213.2,765.8 1220.8,758.2 1228.2,769.6 1235.8,771.2 1243.2,762.9 1250.8,760.8 1258.2,771.6 1265.8,764.4 1273.2,769.4 1280.8,811.0 1288.2,853.5 1297.2,854.7 1304.8,841.3 1312.2,860.0 1319.8,860.0 1327.2,882.0 1334.8,890.8 1342.2,883.3 1349.8,886.9 1357.2,881.0 1364.8,862.1 1372.2,832.8 1379.8,792.7 1387.2,764.5 1394.8,764.7 1402.2,776.7 1411.2,785.4 1418.8,819.3 1426.2,834.9 1433.8,842.9 1441.2,855.6" fill="none" stroke="#f400f4" stroke-width="1.35" stroke-linejoin="round"/>
</g>
<text x="461" y="58.6" fill="#d6d6d6" font-size="17.5" font-family='"Liberation Sans", Arial, sans-serif' textLength="65" lengthAdjust="spacingAndGlyphs">3288.45</text>
<text x="34" y="516.4" fill="#d6d6d6" font-size="17.5" font-family='"Liberation Sans", Arial, sans-serif' textLength="64.5" lengthAdjust="spacingAndGlyphs">2531.66</text>
<text x="1173" y="321.6" fill="#d6d6d6" font-size="17.5" font-family='"Liberation Sans", Arial, sans-serif' textLength="148" lengthAdjust="spacingAndGlyphs">2870.49 - 2874.10</text>
<rect x="0" y="0" width="2" height="894" fill="#e9e9e9"/>
<text x="3.5" y="34.6" fill="#d6d6d6" font-size="19.5" font-family='"Liberation Sans", "Noto Sans CJK SC", "WenQuanYi Zen Hei", sans-serif' textLength="176.5" lengthAdjust="spacingAndGlyphs">上证指数(日线.前复权)</text>
<path d="M198.6 18.4 L206.2 26.6 L201.6 26.6 L201.6 34.4 L195.6 34.4 L195.6 26.6 L191 26.6 Z" fill="#ff0000"/>
<text x="211.8" y="33.4" fill="#d6d6d6" font-size="17.5" font-family='"Liberation Sans", Arial, sans-serif' textLength="114.4" lengthAdjust="spacingAndGlyphs">EXPMA(12,50)</text>
<text x="336" y="33.4" fill="#d6d6d6" font-size="17.5" font-family='"Liberation Sans", Arial, sans-serif' textLength="119" lengthAdjust="spacingAndGlyphs">EXP1: 2956.46</text>
<text x="464.8" y="33.4" fill="#e2e200" font-size="17.5" font-family='"Liberation Sans", Arial, sans-serif' textLength="118.5" lengthAdjust="spacingAndGlyphs">EXP2: 2945.47</text>
<text x="2.3" y="560.4" fill="#d6d6d6" font-size="17.5" font-family='"Liberation Sans", Arial, sans-serif' textLength="200.7" lengthAdjust="spacingAndGlyphs">VOLUME: 123812880.00</text>
<text x="213.3" y="560.4" fill="#d6d6d6" font-size="17.5" font-family='"Liberation Sans", Arial, sans-serif' textLength="160.7" lengthAdjust="spacingAndGlyphs">MA5: 129257664.00</text>
<text x="385" y="560.4" fill="#e2e200" font-size="17.5" font-family='"Liberation Sans", Arial, sans-serif' textLength="170.4" lengthAdjust="spacingAndGlyphs">MA10: 145560896.00</text>
<text x="2.7" y="736" fill="#d6d6d6" font-size="17.5" font-family='"Liberation Sans", Arial, sans-serif' textLength="84.8" lengthAdjust="spacingAndGlyphs">KDJ(9,3,3)</text>
<text x="97.5" y="736" fill="#d6d6d6" font-size="17.5" font-family='"Liberation Sans", Arial, sans-serif' textLength="64.3" lengthAdjust="spacingAndGlyphs">K: 36.07</text>
<text x="172.9" y="736" fill="#e2e200" font-size="17.5" font-family='"Liberation Sans", Arial, sans-serif' textLength="66.5" lengthAdjust="spacingAndGlyphs">D: 44.98</text>
<text x="247" y="736" fill="#f400f4" font-size="17.5" font-family='"Liberation Sans", Arial, sans-serif' textLength="64.4" lengthAdjust="spacingAndGlyphs">J: 18.25</text>
</svg></body></html>
